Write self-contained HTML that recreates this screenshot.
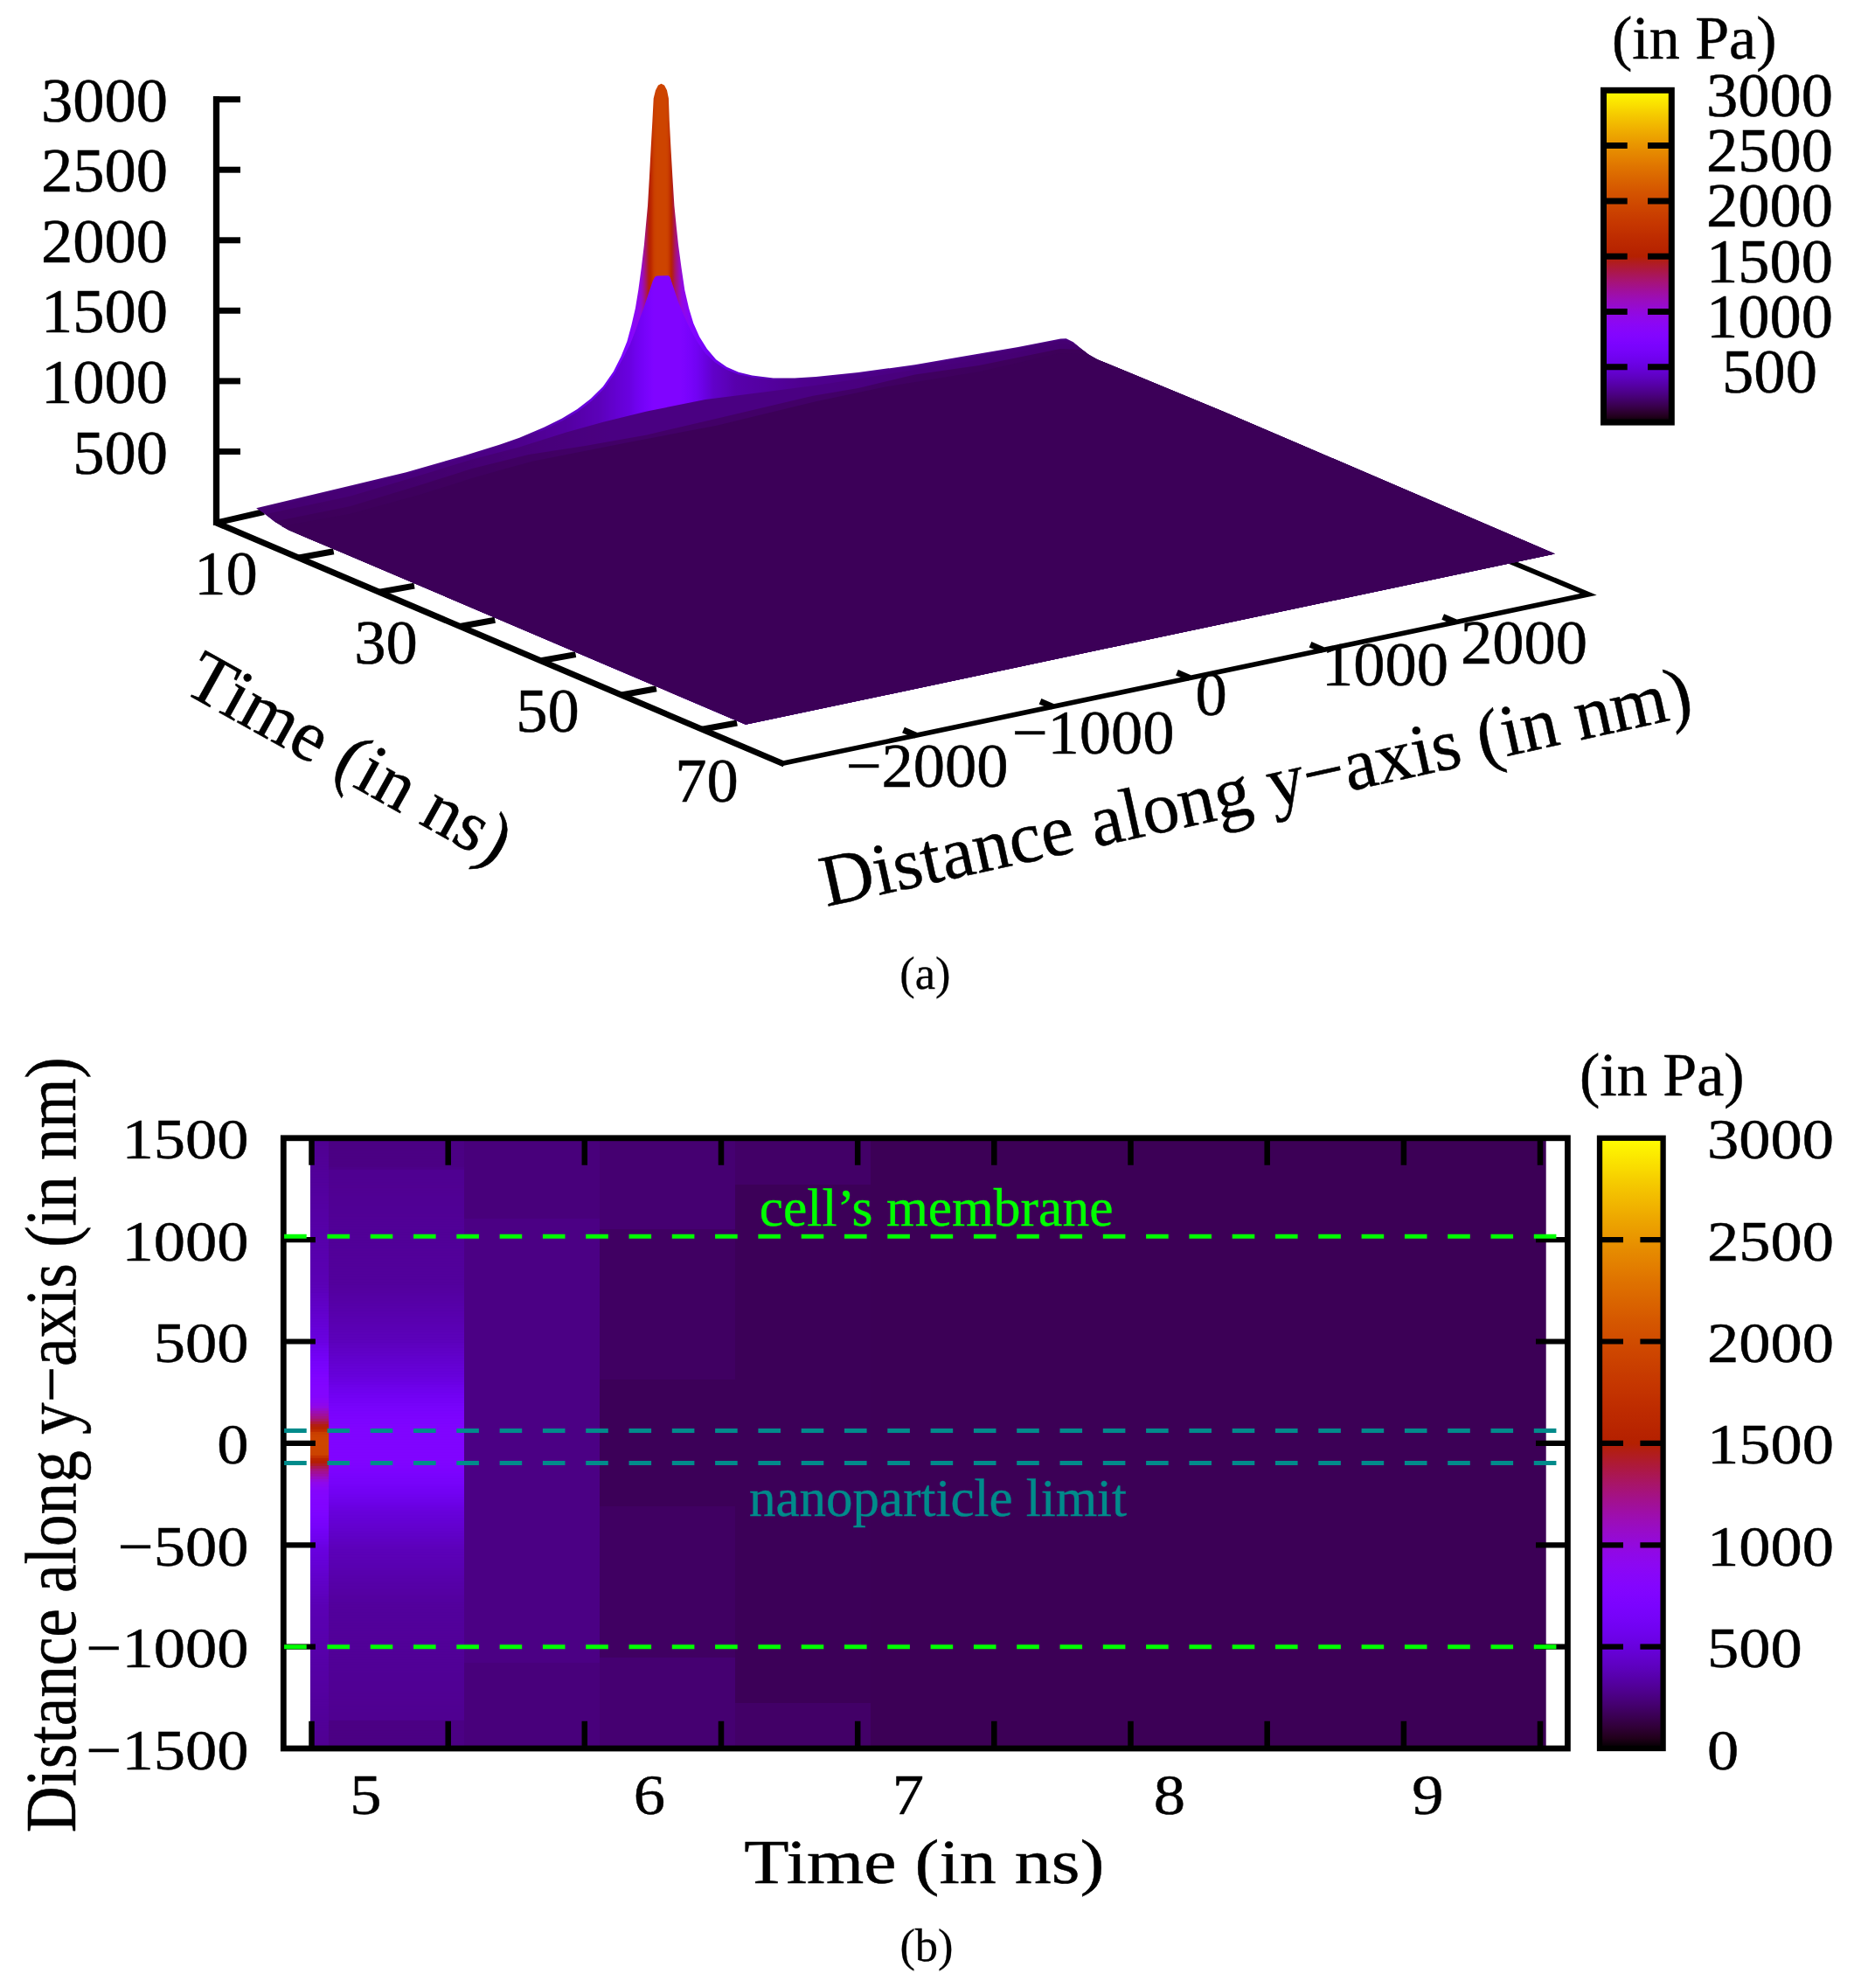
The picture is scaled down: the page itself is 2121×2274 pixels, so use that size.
<!DOCTYPE html>
<html><head><meta charset="utf-8"><title>Figure</title>
<style>
html,body{margin:0;padding:0;background:#fff;}
body{width:2121px;height:2274px;overflow:hidden;}
svg{display:block;}
text{font-family:"Liberation Serif","Times New Roman",serif;fill:#000;stroke:#000;stroke-width:0.5px;}
.t70{font-size:71px;}
.t84{font-size:84px;}
.k{stroke:#000;fill:none;stroke-linecap:butt;}
</style></head><body>
<svg width="2121" height="2274" viewBox="0 0 2121 2274">
<rect width="2121" height="2274" fill="#fff"/>
<defs>
<linearGradient id="palv" x1="0" y1="0" x2="0" y2="1"><stop offset="0.0000" stop-color="#ffff00"/><stop offset="0.0167" stop-color="#fdf200"/><stop offset="0.0333" stop-color="#fbe600"/><stop offset="0.0500" stop-color="#f9db00"/><stop offset="0.0667" stop-color="#f6cf00"/><stop offset="0.0833" stop-color="#f4c400"/><stop offset="0.1000" stop-color="#f2ba00"/><stop offset="0.1167" stop-color="#f0b000"/><stop offset="0.1333" stop-color="#eda600"/><stop offset="0.1500" stop-color="#eb9d00"/><stop offset="0.1667" stop-color="#e99400"/><stop offset="0.1833" stop-color="#e68b00"/><stop offset="0.2000" stop-color="#e48300"/><stop offset="0.2167" stop-color="#e27b00"/><stop offset="0.2333" stop-color="#df7300"/><stop offset="0.2500" stop-color="#dd6c00"/><stop offset="0.2667" stop-color="#da6500"/><stop offset="0.2833" stop-color="#d85e00"/><stop offset="0.3000" stop-color="#d55700"/><stop offset="0.3167" stop-color="#d35100"/><stop offset="0.3333" stop-color="#d04c00"/><stop offset="0.3500" stop-color="#ce4600"/><stop offset="0.3667" stop-color="#cb4100"/><stop offset="0.3833" stop-color="#c83c00"/><stop offset="0.4000" stop-color="#c63700"/><stop offset="0.4167" stop-color="#c33300"/><stop offset="0.4333" stop-color="#c02e00"/><stop offset="0.4500" stop-color="#bd2a00"/><stop offset="0.4667" stop-color="#ba2700"/><stop offset="0.4833" stop-color="#b72300"/><stop offset="0.5000" stop-color="#b42000"/><stop offset="0.5167" stop-color="#b11d1b"/><stop offset="0.5333" stop-color="#ae1a35"/><stop offset="0.5500" stop-color="#ab174f"/><stop offset="0.5667" stop-color="#a81568"/><stop offset="0.5833" stop-color="#a51280"/><stop offset="0.6000" stop-color="#a11096"/><stop offset="0.6167" stop-color="#9e0eab"/><stop offset="0.6333" stop-color="#9a0dbe"/><stop offset="0.6500" stop-color="#970bce"/><stop offset="0.6667" stop-color="#9309dd"/><stop offset="0.6833" stop-color="#8f08e9"/><stop offset="0.7000" stop-color="#8c07f3"/><stop offset="0.7167" stop-color="#8806f9"/><stop offset="0.7333" stop-color="#8405fe"/><stop offset="0.7500" stop-color="#8004ff"/><stop offset="0.7667" stop-color="#7b03fe"/><stop offset="0.7833" stop-color="#7703f9"/><stop offset="0.8000" stop-color="#7202f3"/><stop offset="0.8167" stop-color="#6d02e9"/><stop offset="0.8333" stop-color="#6801dd"/><stop offset="0.8500" stop-color="#6301ce"/><stop offset="0.8667" stop-color="#5d01be"/><stop offset="0.8833" stop-color="#5700ab"/><stop offset="0.9000" stop-color="#510096"/><stop offset="0.9167" stop-color="#4a0080"/><stop offset="0.9333" stop-color="#420068"/><stop offset="0.9500" stop-color="#39004f"/><stop offset="0.9667" stop-color="#2f0035"/><stop offset="0.9833" stop-color="#21001b"/><stop offset="1.0000" stop-color="#000000"/></linearGradient>
<linearGradient id="gspike" gradientUnits="userSpaceOnUse" x1="290" y1="0" x2="1250" y2="0"><stop offset="0.0000" stop-color="#460074"/><stop offset="0.0021" stop-color="#460074"/><stop offset="0.0042" stop-color="#460074"/><stop offset="0.0063" stop-color="#460074"/><stop offset="0.0083" stop-color="#460075"/><stop offset="0.0104" stop-color="#460075"/><stop offset="0.0125" stop-color="#460075"/><stop offset="0.0146" stop-color="#460075"/><stop offset="0.0167" stop-color="#460075"/><stop offset="0.0187" stop-color="#460075"/><stop offset="0.0208" stop-color="#460076"/><stop offset="0.0229" stop-color="#460076"/><stop offset="0.0250" stop-color="#470076"/><stop offset="0.0271" stop-color="#470076"/><stop offset="0.0292" stop-color="#470076"/><stop offset="0.0312" stop-color="#470077"/><stop offset="0.0333" stop-color="#470077"/><stop offset="0.0354" stop-color="#470077"/><stop offset="0.0375" stop-color="#470077"/><stop offset="0.0396" stop-color="#470077"/><stop offset="0.0417" stop-color="#470077"/><stop offset="0.0437" stop-color="#470078"/><stop offset="0.0458" stop-color="#470078"/><stop offset="0.0479" stop-color="#470078"/><stop offset="0.0500" stop-color="#470078"/><stop offset="0.0521" stop-color="#470078"/><stop offset="0.0542" stop-color="#470079"/><stop offset="0.0563" stop-color="#470079"/><stop offset="0.0583" stop-color="#470079"/><stop offset="0.0604" stop-color="#480079"/><stop offset="0.0625" stop-color="#480079"/><stop offset="0.0646" stop-color="#480079"/><stop offset="0.0667" stop-color="#48007a"/><stop offset="0.0688" stop-color="#48007a"/><stop offset="0.0708" stop-color="#48007a"/><stop offset="0.0729" stop-color="#48007a"/><stop offset="0.0750" stop-color="#48007a"/><stop offset="0.0771" stop-color="#48007b"/><stop offset="0.0792" stop-color="#48007b"/><stop offset="0.0813" stop-color="#48007b"/><stop offset="0.0833" stop-color="#48007b"/><stop offset="0.0854" stop-color="#48007b"/><stop offset="0.0875" stop-color="#48007b"/><stop offset="0.0896" stop-color="#48007c"/><stop offset="0.0917" stop-color="#48007c"/><stop offset="0.0938" stop-color="#48007c"/><stop offset="0.0958" stop-color="#49007c"/><stop offset="0.0979" stop-color="#49007c"/><stop offset="0.1000" stop-color="#49007d"/><stop offset="0.1021" stop-color="#49007d"/><stop offset="0.1042" stop-color="#49007d"/><stop offset="0.1062" stop-color="#49007d"/><stop offset="0.1083" stop-color="#49007d"/><stop offset="0.1104" stop-color="#49007d"/><stop offset="0.1125" stop-color="#49007e"/><stop offset="0.1146" stop-color="#49007e"/><stop offset="0.1167" stop-color="#49007e"/><stop offset="0.1187" stop-color="#49007e"/><stop offset="0.1208" stop-color="#49007e"/><stop offset="0.1229" stop-color="#49007e"/><stop offset="0.1250" stop-color="#49007f"/><stop offset="0.1271" stop-color="#49007f"/><stop offset="0.1292" stop-color="#49007f"/><stop offset="0.1313" stop-color="#4a007f"/><stop offset="0.1333" stop-color="#4a007f"/><stop offset="0.1354" stop-color="#4a0080"/><stop offset="0.1375" stop-color="#4a0080"/><stop offset="0.1396" stop-color="#4a0080"/><stop offset="0.1417" stop-color="#4a0080"/><stop offset="0.1437" stop-color="#4a0080"/><stop offset="0.1458" stop-color="#4a0080"/><stop offset="0.1479" stop-color="#4a0081"/><stop offset="0.1500" stop-color="#4a0081"/><stop offset="0.1521" stop-color="#4a0081"/><stop offset="0.1542" stop-color="#4a0081"/><stop offset="0.1562" stop-color="#4a0081"/><stop offset="0.1583" stop-color="#4a0082"/><stop offset="0.1604" stop-color="#4a0082"/><stop offset="0.1625" stop-color="#4a0082"/><stop offset="0.1646" stop-color="#4a0082"/><stop offset="0.1667" stop-color="#4a0082"/><stop offset="0.1688" stop-color="#4b0082"/><stop offset="0.1708" stop-color="#4b0083"/><stop offset="0.1729" stop-color="#4b0083"/><stop offset="0.1750" stop-color="#4b0083"/><stop offset="0.1771" stop-color="#4b0083"/><stop offset="0.1792" stop-color="#4b0083"/><stop offset="0.1812" stop-color="#4b0083"/><stop offset="0.1833" stop-color="#4b0084"/><stop offset="0.1854" stop-color="#4b0084"/><stop offset="0.1875" stop-color="#4b0084"/><stop offset="0.1896" stop-color="#4b0084"/><stop offset="0.1917" stop-color="#4b0084"/><stop offset="0.1938" stop-color="#4b0085"/><stop offset="0.1958" stop-color="#4b0085"/><stop offset="0.1979" stop-color="#4b0085"/><stop offset="0.2000" stop-color="#4b0085"/><stop offset="0.2021" stop-color="#4b0085"/><stop offset="0.2042" stop-color="#4b0085"/><stop offset="0.2062" stop-color="#4c0086"/><stop offset="0.2083" stop-color="#4c0086"/><stop offset="0.2104" stop-color="#4c0086"/><stop offset="0.2125" stop-color="#4c0086"/><stop offset="0.2146" stop-color="#4c0086"/><stop offset="0.2167" stop-color="#4c0086"/><stop offset="0.2188" stop-color="#4c0087"/><stop offset="0.2208" stop-color="#4c0087"/><stop offset="0.2229" stop-color="#4c0087"/><stop offset="0.2250" stop-color="#4c0087"/><stop offset="0.2271" stop-color="#4c0087"/><stop offset="0.2292" stop-color="#4c0088"/><stop offset="0.2313" stop-color="#4c0088"/><stop offset="0.2333" stop-color="#4c0088"/><stop offset="0.2354" stop-color="#4c0088"/><stop offset="0.2375" stop-color="#4c0088"/><stop offset="0.2396" stop-color="#4c0088"/><stop offset="0.2417" stop-color="#4c0089"/><stop offset="0.2437" stop-color="#4d0089"/><stop offset="0.2458" stop-color="#4d0089"/><stop offset="0.2479" stop-color="#4d0089"/><stop offset="0.2500" stop-color="#4d0089"/><stop offset="0.2521" stop-color="#4d0089"/><stop offset="0.2542" stop-color="#4d008a"/><stop offset="0.2562" stop-color="#4d008a"/><stop offset="0.2583" stop-color="#4d008a"/><stop offset="0.2604" stop-color="#4d008a"/><stop offset="0.2625" stop-color="#4d008a"/><stop offset="0.2646" stop-color="#4d008b"/><stop offset="0.2667" stop-color="#4d008b"/><stop offset="0.2687" stop-color="#4d008b"/><stop offset="0.2708" stop-color="#4d008b"/><stop offset="0.2729" stop-color="#4d008b"/><stop offset="0.2750" stop-color="#4d008b"/><stop offset="0.2771" stop-color="#4d008c"/><stop offset="0.2792" stop-color="#4d008c"/><stop offset="0.2812" stop-color="#4e008c"/><stop offset="0.2833" stop-color="#4e008c"/><stop offset="0.2854" stop-color="#4e008c"/><stop offset="0.2875" stop-color="#4e008c"/><stop offset="0.2896" stop-color="#4e008d"/><stop offset="0.2917" stop-color="#4e008d"/><stop offset="0.2938" stop-color="#4e008d"/><stop offset="0.2958" stop-color="#4e008d"/><stop offset="0.2979" stop-color="#4e008d"/><stop offset="0.3000" stop-color="#4e008d"/><stop offset="0.3021" stop-color="#4e008e"/><stop offset="0.3042" stop-color="#4e008e"/><stop offset="0.3063" stop-color="#4e008e"/><stop offset="0.3083" stop-color="#4e008e"/><stop offset="0.3104" stop-color="#4e008e"/><stop offset="0.3125" stop-color="#4e008e"/><stop offset="0.3146" stop-color="#4e008f"/><stop offset="0.3167" stop-color="#4e008f"/><stop offset="0.3187" stop-color="#4e008f"/><stop offset="0.3208" stop-color="#4f008f"/><stop offset="0.3229" stop-color="#4f008f"/><stop offset="0.3250" stop-color="#4f0092"/><stop offset="0.3271" stop-color="#500095"/><stop offset="0.3292" stop-color="#510098"/><stop offset="0.3312" stop-color="#52009a"/><stop offset="0.3333" stop-color="#53009d"/><stop offset="0.3354" stop-color="#5400a0"/><stop offset="0.3375" stop-color="#5400a2"/><stop offset="0.3396" stop-color="#5500a5"/><stop offset="0.3417" stop-color="#5600a7"/><stop offset="0.3438" stop-color="#5700aa"/><stop offset="0.3458" stop-color="#5800ac"/><stop offset="0.3479" stop-color="#5800af"/><stop offset="0.3500" stop-color="#5900b1"/><stop offset="0.3521" stop-color="#5a00b4"/><stop offset="0.3542" stop-color="#5b01b6"/><stop offset="0.3563" stop-color="#5b01b8"/><stop offset="0.3583" stop-color="#5c01bb"/><stop offset="0.3604" stop-color="#5d01bd"/><stop offset="0.3625" stop-color="#5e01bf"/><stop offset="0.3646" stop-color="#5e01c1"/><stop offset="0.3667" stop-color="#5f01c4"/><stop offset="0.3688" stop-color="#6001c6"/><stop offset="0.3708" stop-color="#6101c8"/><stop offset="0.3729" stop-color="#6101ca"/><stop offset="0.3750" stop-color="#6201cc"/><stop offset="0.3771" stop-color="#6301ce"/><stop offset="0.3792" stop-color="#6301d0"/><stop offset="0.3812" stop-color="#6401d2"/><stop offset="0.3833" stop-color="#6501d4"/><stop offset="0.3854" stop-color="#6501d6"/><stop offset="0.3875" stop-color="#6601d7"/><stop offset="0.3896" stop-color="#6701d9"/><stop offset="0.3917" stop-color="#6701db"/><stop offset="0.3937" stop-color="#6801dd"/><stop offset="0.3958" stop-color="#6901de"/><stop offset="0.3979" stop-color="#6901e0"/><stop offset="0.4000" stop-color="#6a01e2"/><stop offset="0.4021" stop-color="#6b01e3"/><stop offset="0.4042" stop-color="#6b01e5"/><stop offset="0.4062" stop-color="#6c01e6"/><stop offset="0.4083" stop-color="#6d02e7"/><stop offset="0.4104" stop-color="#6d02e9"/><stop offset="0.4125" stop-color="#6e02ea"/><stop offset="0.4146" stop-color="#6e02ec"/><stop offset="0.4167" stop-color="#6f02ed"/><stop offset="0.4188" stop-color="#7002ee"/><stop offset="0.4208" stop-color="#7002ef"/><stop offset="0.4229" stop-color="#7102f0"/><stop offset="0.4250" stop-color="#7102f1"/><stop offset="0.4271" stop-color="#7202f3"/><stop offset="0.4292" stop-color="#7402f5"/><stop offset="0.4313" stop-color="#7602f8"/><stop offset="0.4333" stop-color="#7703fa"/><stop offset="0.4354" stop-color="#7903fc"/><stop offset="0.4375" stop-color="#7b03fd"/><stop offset="0.4396" stop-color="#7c03fe"/><stop offset="0.4417" stop-color="#7e04ff"/><stop offset="0.4437" stop-color="#8004ff"/><stop offset="0.4458" stop-color="#8104ff"/><stop offset="0.4479" stop-color="#8305fe"/><stop offset="0.4500" stop-color="#8505fd"/><stop offset="0.4521" stop-color="#8706fa"/><stop offset="0.4542" stop-color="#8a06f6"/><stop offset="0.4562" stop-color="#8c07f1"/><stop offset="0.4583" stop-color="#8f08eb"/><stop offset="0.4604" stop-color="#9109e4"/><stop offset="0.4625" stop-color="#960bd1"/><stop offset="0.4646" stop-color="#9e0eac"/><stop offset="0.4667" stop-color="#a5137e"/><stop offset="0.4688" stop-color="#ac184b"/><stop offset="0.4708" stop-color="#b21d15"/><stop offset="0.4729" stop-color="#b82400"/><stop offset="0.4750" stop-color="#c12f00"/><stop offset="0.4771" stop-color="#c93d00"/><stop offset="0.4792" stop-color="#cb4200"/><stop offset="0.4813" stop-color="#cd4400"/><stop offset="0.4833" stop-color="#cd4400"/><stop offset="0.4854" stop-color="#cd4400"/><stop offset="0.4875" stop-color="#cd4400"/><stop offset="0.4896" stop-color="#cd4400"/><stop offset="0.4917" stop-color="#cd4400"/><stop offset="0.4938" stop-color="#ca3f00"/><stop offset="0.4958" stop-color="#c33300"/><stop offset="0.4979" stop-color="#b82400"/><stop offset="0.5000" stop-color="#af1b2b"/><stop offset="0.5021" stop-color="#a91562"/><stop offset="0.5042" stop-color="#a41285"/><stop offset="0.5062" stop-color="#9e0fa7"/><stop offset="0.5083" stop-color="#990cc7"/><stop offset="0.5104" stop-color="#9209df"/><stop offset="0.5125" stop-color="#9008e8"/><stop offset="0.5146" stop-color="#8d07ef"/><stop offset="0.5167" stop-color="#8a06f5"/><stop offset="0.5188" stop-color="#8706fa"/><stop offset="0.5208" stop-color="#8505fd"/><stop offset="0.5229" stop-color="#8305fe"/><stop offset="0.5250" stop-color="#8104ff"/><stop offset="0.5271" stop-color="#7f04ff"/><stop offset="0.5292" stop-color="#7d04ff"/><stop offset="0.5312" stop-color="#7c03fe"/><stop offset="0.5333" stop-color="#7a03fd"/><stop offset="0.5354" stop-color="#7803fb"/><stop offset="0.5375" stop-color="#7602f9"/><stop offset="0.5396" stop-color="#7402f6"/><stop offset="0.5417" stop-color="#7202f3"/><stop offset="0.5437" stop-color="#7102f1"/><stop offset="0.5458" stop-color="#7102f0"/><stop offset="0.5479" stop-color="#7002ef"/><stop offset="0.5500" stop-color="#6f02ee"/><stop offset="0.5521" stop-color="#6f02ec"/><stop offset="0.5542" stop-color="#6e02eb"/><stop offset="0.5563" stop-color="#6e02ea"/><stop offset="0.5583" stop-color="#6d02e8"/><stop offset="0.5604" stop-color="#6c01e7"/><stop offset="0.5625" stop-color="#6c01e5"/><stop offset="0.5646" stop-color="#6b01e4"/><stop offset="0.5667" stop-color="#6a01e2"/><stop offset="0.5687" stop-color="#6901e0"/><stop offset="0.5708" stop-color="#6901df"/><stop offset="0.5729" stop-color="#6801dd"/><stop offset="0.5750" stop-color="#6701db"/><stop offset="0.5771" stop-color="#6701d9"/><stop offset="0.5792" stop-color="#6601d7"/><stop offset="0.5813" stop-color="#6501d5"/><stop offset="0.5833" stop-color="#6501d3"/><stop offset="0.5854" stop-color="#6401d1"/><stop offset="0.5875" stop-color="#6301cf"/><stop offset="0.5896" stop-color="#6201cd"/><stop offset="0.5917" stop-color="#6201cb"/><stop offset="0.5938" stop-color="#6101c9"/><stop offset="0.5958" stop-color="#6001c7"/><stop offset="0.5979" stop-color="#5f01c4"/><stop offset="0.6000" stop-color="#5f01c2"/><stop offset="0.6021" stop-color="#5e01c0"/><stop offset="0.6042" stop-color="#5d01be"/><stop offset="0.6062" stop-color="#5c01bb"/><stop offset="0.6083" stop-color="#5c01b9"/><stop offset="0.6104" stop-color="#5b01b6"/><stop offset="0.6125" stop-color="#5a00b4"/><stop offset="0.6146" stop-color="#5900b1"/><stop offset="0.6167" stop-color="#5800af"/><stop offset="0.6188" stop-color="#5800ac"/><stop offset="0.6208" stop-color="#5700a9"/><stop offset="0.6229" stop-color="#5600a7"/><stop offset="0.6250" stop-color="#5500a4"/><stop offset="0.6271" stop-color="#5400a1"/><stop offset="0.6292" stop-color="#53009e"/><stop offset="0.6312" stop-color="#52009c"/><stop offset="0.6333" stop-color="#520099"/><stop offset="0.6354" stop-color="#510096"/><stop offset="0.6375" stop-color="#510096"/><stop offset="0.6396" stop-color="#510096"/><stop offset="0.6417" stop-color="#510096"/><stop offset="0.6438" stop-color="#500095"/><stop offset="0.6458" stop-color="#500095"/><stop offset="0.6479" stop-color="#500095"/><stop offset="0.6500" stop-color="#500095"/><stop offset="0.6521" stop-color="#500095"/><stop offset="0.6542" stop-color="#500095"/><stop offset="0.6562" stop-color="#500095"/><stop offset="0.6583" stop-color="#500095"/><stop offset="0.6604" stop-color="#500095"/><stop offset="0.6625" stop-color="#500094"/><stop offset="0.6646" stop-color="#500094"/><stop offset="0.6667" stop-color="#500094"/><stop offset="0.6687" stop-color="#500094"/><stop offset="0.6708" stop-color="#500094"/><stop offset="0.6729" stop-color="#500094"/><stop offset="0.6750" stop-color="#500094"/><stop offset="0.6771" stop-color="#500094"/><stop offset="0.6792" stop-color="#500094"/><stop offset="0.6813" stop-color="#500093"/><stop offset="0.6833" stop-color="#500093"/><stop offset="0.6854" stop-color="#500093"/><stop offset="0.6875" stop-color="#500093"/><stop offset="0.6896" stop-color="#500093"/><stop offset="0.6917" stop-color="#500093"/><stop offset="0.6937" stop-color="#500093"/><stop offset="0.6958" stop-color="#500093"/><stop offset="0.6979" stop-color="#500093"/><stop offset="0.7000" stop-color="#500092"/><stop offset="0.7021" stop-color="#500092"/><stop offset="0.7042" stop-color="#4f0092"/><stop offset="0.7063" stop-color="#4f0092"/><stop offset="0.7083" stop-color="#4f0092"/><stop offset="0.7104" stop-color="#4f0092"/><stop offset="0.7125" stop-color="#4f0092"/><stop offset="0.7146" stop-color="#4f0092"/><stop offset="0.7167" stop-color="#4f0092"/><stop offset="0.7188" stop-color="#4f0091"/><stop offset="0.7208" stop-color="#4f0091"/><stop offset="0.7229" stop-color="#4f0091"/><stop offset="0.7250" stop-color="#4f0091"/><stop offset="0.7271" stop-color="#4f0091"/><stop offset="0.7292" stop-color="#4f0091"/><stop offset="0.7312" stop-color="#4f0091"/><stop offset="0.7333" stop-color="#4f0091"/><stop offset="0.7354" stop-color="#4f0091"/><stop offset="0.7375" stop-color="#4f0090"/><stop offset="0.7396" stop-color="#4f0090"/><stop offset="0.7417" stop-color="#4f0090"/><stop offset="0.7438" stop-color="#4f0090"/><stop offset="0.7458" stop-color="#4f0090"/><stop offset="0.7479" stop-color="#4f0090"/><stop offset="0.7500" stop-color="#4f0090"/><stop offset="0.7521" stop-color="#4f0090"/><stop offset="0.7542" stop-color="#4f008f"/><stop offset="0.7562" stop-color="#4f008f"/><stop offset="0.7583" stop-color="#4f008f"/><stop offset="0.7604" stop-color="#4f008f"/><stop offset="0.7625" stop-color="#4f008f"/><stop offset="0.7646" stop-color="#4e008f"/><stop offset="0.7667" stop-color="#4e008f"/><stop offset="0.7688" stop-color="#4e008f"/><stop offset="0.7708" stop-color="#4e008f"/><stop offset="0.7729" stop-color="#4e008e"/><stop offset="0.7750" stop-color="#4e008e"/><stop offset="0.7771" stop-color="#4e008e"/><stop offset="0.7792" stop-color="#4e008e"/><stop offset="0.7812" stop-color="#4e008e"/><stop offset="0.7833" stop-color="#4e008e"/><stop offset="0.7854" stop-color="#4e008e"/><stop offset="0.7875" stop-color="#4e008e"/><stop offset="0.7896" stop-color="#4e008e"/><stop offset="0.7917" stop-color="#4e008d"/><stop offset="0.7937" stop-color="#4e008d"/><stop offset="0.7958" stop-color="#4e008d"/><stop offset="0.7979" stop-color="#4e008d"/><stop offset="0.8000" stop-color="#4e008d"/><stop offset="0.8021" stop-color="#4e008d"/><stop offset="0.8042" stop-color="#4e008d"/><stop offset="0.8063" stop-color="#4e008d"/><stop offset="0.8083" stop-color="#4e008d"/><stop offset="0.8104" stop-color="#4e008c"/><stop offset="0.8125" stop-color="#4e008c"/><stop offset="0.8146" stop-color="#4e008c"/><stop offset="0.8167" stop-color="#4e008c"/><stop offset="0.8187" stop-color="#4e008c"/><stop offset="0.8208" stop-color="#4e008c"/><stop offset="0.8229" stop-color="#4d008c"/><stop offset="0.8250" stop-color="#4d008c"/><stop offset="0.8271" stop-color="#4d008b"/><stop offset="0.8292" stop-color="#4d008b"/><stop offset="0.8313" stop-color="#4d008b"/><stop offset="0.8333" stop-color="#4d008b"/><stop offset="0.8354" stop-color="#4d008b"/><stop offset="0.8375" stop-color="#4d008b"/><stop offset="0.8396" stop-color="#4d008b"/><stop offset="0.8417" stop-color="#4d008b"/><stop offset="0.8438" stop-color="#4d008b"/><stop offset="0.8458" stop-color="#4d008a"/><stop offset="0.8479" stop-color="#4d008a"/><stop offset="0.8500" stop-color="#4d008a"/><stop offset="0.8521" stop-color="#4d008a"/><stop offset="0.8542" stop-color="#4d008a"/><stop offset="0.8562" stop-color="#4d008a"/><stop offset="0.8583" stop-color="#4d008a"/><stop offset="0.8604" stop-color="#4d008a"/><stop offset="0.8625" stop-color="#4d008a"/><stop offset="0.8646" stop-color="#4d0089"/><stop offset="0.8667" stop-color="#4d0089"/><stop offset="0.8688" stop-color="#4d0089"/><stop offset="0.8708" stop-color="#4d0089"/><stop offset="0.8729" stop-color="#4d0089"/><stop offset="0.8750" stop-color="#4d0089"/><stop offset="0.8771" stop-color="#4d0089"/><stop offset="0.8792" stop-color="#4c0089"/><stop offset="0.8812" stop-color="#4c0088"/><stop offset="0.8833" stop-color="#4c0088"/><stop offset="0.8854" stop-color="#4c0088"/><stop offset="0.8875" stop-color="#4c0088"/><stop offset="0.8896" stop-color="#4c0088"/><stop offset="0.8917" stop-color="#4c0088"/><stop offset="0.8938" stop-color="#4c0088"/><stop offset="0.8958" stop-color="#4c0088"/><stop offset="0.8979" stop-color="#4c0088"/><stop offset="0.9000" stop-color="#4c0087"/><stop offset="0.9021" stop-color="#4c0087"/><stop offset="0.9042" stop-color="#4c0087"/><stop offset="0.9062" stop-color="#4c0087"/><stop offset="0.9083" stop-color="#4c0087"/><stop offset="0.9104" stop-color="#4c0087"/><stop offset="0.9125" stop-color="#4c0087"/><stop offset="0.9146" stop-color="#4c0087"/><stop offset="0.9167" stop-color="#4c0087"/><stop offset="0.9187" stop-color="#4c0086"/><stop offset="0.9208" stop-color="#4c0086"/><stop offset="0.9229" stop-color="#4c0086"/><stop offset="0.9250" stop-color="#4c0086"/><stop offset="0.9271" stop-color="#4c0086"/><stop offset="0.9292" stop-color="#4c0086"/><stop offset="0.9313" stop-color="#4c0086"/><stop offset="0.9333" stop-color="#4c0086"/><stop offset="0.9354" stop-color="#4b0085"/><stop offset="0.9375" stop-color="#4b0085"/><stop offset="0.9396" stop-color="#4b0085"/><stop offset="0.9417" stop-color="#4b0085"/><stop offset="0.9437" stop-color="#4b0085"/><stop offset="0.9458" stop-color="#4b0085"/><stop offset="0.9479" stop-color="#4b0085"/><stop offset="0.9500" stop-color="#4b0085"/><stop offset="0.9521" stop-color="#4b0085"/><stop offset="0.9542" stop-color="#4b0084"/><stop offset="0.9563" stop-color="#4b0084"/><stop offset="0.9583" stop-color="#4b0084"/><stop offset="0.9604" stop-color="#4b0084"/><stop offset="0.9625" stop-color="#4b0084"/><stop offset="0.9646" stop-color="#4b0084"/><stop offset="0.9667" stop-color="#4b0084"/><stop offset="0.9688" stop-color="#4b0084"/><stop offset="0.9708" stop-color="#4b0083"/><stop offset="0.9729" stop-color="#4b0083"/><stop offset="0.9750" stop-color="#4b0083"/><stop offset="0.9771" stop-color="#4b0083"/><stop offset="0.9792" stop-color="#4b0083"/><stop offset="0.9812" stop-color="#4b0083"/><stop offset="0.9833" stop-color="#4b0083"/><stop offset="0.9854" stop-color="#4b0083"/><stop offset="0.9875" stop-color="#4b0083"/><stop offset="0.9896" stop-color="#4b0082"/><stop offset="0.9917" stop-color="#4a0082"/><stop offset="0.9938" stop-color="#4a0082"/><stop offset="0.9958" stop-color="#4a0082"/><stop offset="0.9979" stop-color="#4a0082"/><stop offset="1.0000" stop-color="#4a0082"/></linearGradient>
<linearGradient id="ghump" gradientUnits="userSpaceOnUse" x1="290" y1="0" x2="1250" y2="0"><stop offset="0.0000" stop-color="#44006f"/><stop offset="0.0021" stop-color="#440070"/><stop offset="0.0042" stop-color="#440070"/><stop offset="0.0063" stop-color="#450070"/><stop offset="0.0083" stop-color="#450070"/><stop offset="0.0104" stop-color="#450070"/><stop offset="0.0125" stop-color="#450070"/><stop offset="0.0146" stop-color="#450070"/><stop offset="0.0167" stop-color="#450070"/><stop offset="0.0187" stop-color="#450070"/><stop offset="0.0208" stop-color="#450071"/><stop offset="0.0229" stop-color="#450071"/><stop offset="0.0250" stop-color="#450071"/><stop offset="0.0271" stop-color="#450071"/><stop offset="0.0292" stop-color="#450071"/><stop offset="0.0312" stop-color="#450071"/><stop offset="0.0333" stop-color="#450071"/><stop offset="0.0354" stop-color="#450071"/><stop offset="0.0375" stop-color="#450071"/><stop offset="0.0396" stop-color="#450071"/><stop offset="0.0417" stop-color="#450072"/><stop offset="0.0437" stop-color="#450072"/><stop offset="0.0458" stop-color="#450072"/><stop offset="0.0479" stop-color="#450072"/><stop offset="0.0500" stop-color="#450072"/><stop offset="0.0521" stop-color="#450072"/><stop offset="0.0542" stop-color="#450072"/><stop offset="0.0563" stop-color="#450072"/><stop offset="0.0583" stop-color="#450072"/><stop offset="0.0604" stop-color="#450072"/><stop offset="0.0625" stop-color="#450073"/><stop offset="0.0646" stop-color="#450073"/><stop offset="0.0667" stop-color="#460073"/><stop offset="0.0688" stop-color="#460073"/><stop offset="0.0708" stop-color="#460073"/><stop offset="0.0729" stop-color="#460073"/><stop offset="0.0750" stop-color="#460073"/><stop offset="0.0771" stop-color="#460073"/><stop offset="0.0792" stop-color="#460073"/><stop offset="0.0813" stop-color="#460074"/><stop offset="0.0833" stop-color="#460074"/><stop offset="0.0854" stop-color="#460074"/><stop offset="0.0875" stop-color="#460074"/><stop offset="0.0896" stop-color="#460074"/><stop offset="0.0917" stop-color="#460074"/><stop offset="0.0938" stop-color="#460074"/><stop offset="0.0958" stop-color="#460074"/><stop offset="0.0979" stop-color="#460074"/><stop offset="0.1000" stop-color="#460074"/><stop offset="0.1021" stop-color="#460075"/><stop offset="0.1042" stop-color="#460075"/><stop offset="0.1062" stop-color="#460075"/><stop offset="0.1083" stop-color="#460075"/><stop offset="0.1104" stop-color="#460075"/><stop offset="0.1125" stop-color="#460075"/><stop offset="0.1146" stop-color="#460075"/><stop offset="0.1167" stop-color="#460075"/><stop offset="0.1187" stop-color="#460076"/><stop offset="0.1208" stop-color="#460076"/><stop offset="0.1229" stop-color="#470076"/><stop offset="0.1250" stop-color="#470076"/><stop offset="0.1271" stop-color="#470076"/><stop offset="0.1292" stop-color="#470076"/><stop offset="0.1313" stop-color="#470077"/><stop offset="0.1333" stop-color="#470077"/><stop offset="0.1354" stop-color="#470077"/><stop offset="0.1375" stop-color="#470077"/><stop offset="0.1396" stop-color="#470077"/><stop offset="0.1417" stop-color="#470077"/><stop offset="0.1437" stop-color="#470078"/><stop offset="0.1458" stop-color="#470078"/><stop offset="0.1479" stop-color="#470078"/><stop offset="0.1500" stop-color="#470078"/><stop offset="0.1521" stop-color="#470078"/><stop offset="0.1542" stop-color="#470079"/><stop offset="0.1562" stop-color="#470079"/><stop offset="0.1583" stop-color="#470079"/><stop offset="0.1604" stop-color="#480079"/><stop offset="0.1625" stop-color="#480079"/><stop offset="0.1646" stop-color="#480079"/><stop offset="0.1667" stop-color="#48007a"/><stop offset="0.1688" stop-color="#48007a"/><stop offset="0.1708" stop-color="#48007a"/><stop offset="0.1729" stop-color="#48007a"/><stop offset="0.1750" stop-color="#48007a"/><stop offset="0.1771" stop-color="#48007a"/><stop offset="0.1792" stop-color="#48007b"/><stop offset="0.1812" stop-color="#48007b"/><stop offset="0.1833" stop-color="#48007b"/><stop offset="0.1854" stop-color="#48007b"/><stop offset="0.1875" stop-color="#48007b"/><stop offset="0.1896" stop-color="#48007b"/><stop offset="0.1917" stop-color="#48007c"/><stop offset="0.1938" stop-color="#48007c"/><stop offset="0.1958" stop-color="#48007c"/><stop offset="0.1979" stop-color="#49007c"/><stop offset="0.2000" stop-color="#49007c"/><stop offset="0.2021" stop-color="#49007c"/><stop offset="0.2042" stop-color="#49007d"/><stop offset="0.2062" stop-color="#49007d"/><stop offset="0.2083" stop-color="#49007d"/><stop offset="0.2104" stop-color="#49007d"/><stop offset="0.2125" stop-color="#49007d"/><stop offset="0.2146" stop-color="#49007e"/><stop offset="0.2167" stop-color="#49007e"/><stop offset="0.2188" stop-color="#49007e"/><stop offset="0.2208" stop-color="#49007e"/><stop offset="0.2229" stop-color="#49007e"/><stop offset="0.2250" stop-color="#49007e"/><stop offset="0.2271" stop-color="#49007f"/><stop offset="0.2292" stop-color="#49007f"/><stop offset="0.2313" stop-color="#49007f"/><stop offset="0.2333" stop-color="#49007f"/><stop offset="0.2354" stop-color="#4a007f"/><stop offset="0.2375" stop-color="#4a007f"/><stop offset="0.2396" stop-color="#4a0080"/><stop offset="0.2417" stop-color="#4a0080"/><stop offset="0.2437" stop-color="#4a0080"/><stop offset="0.2458" stop-color="#4a0080"/><stop offset="0.2479" stop-color="#4a0080"/><stop offset="0.2500" stop-color="#4a0080"/><stop offset="0.2521" stop-color="#4a0081"/><stop offset="0.2542" stop-color="#4a0081"/><stop offset="0.2562" stop-color="#4a0082"/><stop offset="0.2583" stop-color="#4a0082"/><stop offset="0.2604" stop-color="#4b0082"/><stop offset="0.2625" stop-color="#4b0083"/><stop offset="0.2646" stop-color="#4b0083"/><stop offset="0.2667" stop-color="#4b0084"/><stop offset="0.2687" stop-color="#4b0084"/><stop offset="0.2708" stop-color="#4b0084"/><stop offset="0.2729" stop-color="#4b0085"/><stop offset="0.2750" stop-color="#4b0085"/><stop offset="0.2771" stop-color="#4c0086"/><stop offset="0.2792" stop-color="#4c0086"/><stop offset="0.2812" stop-color="#4c0086"/><stop offset="0.2833" stop-color="#4c0087"/><stop offset="0.2854" stop-color="#4c0087"/><stop offset="0.2875" stop-color="#4c0087"/><stop offset="0.2896" stop-color="#4c0088"/><stop offset="0.2917" stop-color="#4c0088"/><stop offset="0.2938" stop-color="#4c0089"/><stop offset="0.2958" stop-color="#4d0089"/><stop offset="0.2979" stop-color="#4d0089"/><stop offset="0.3000" stop-color="#4d008a"/><stop offset="0.3021" stop-color="#4d008a"/><stop offset="0.3042" stop-color="#4d008b"/><stop offset="0.3063" stop-color="#4d008b"/><stop offset="0.3083" stop-color="#4d008b"/><stop offset="0.3104" stop-color="#4d008c"/><stop offset="0.3125" stop-color="#4e008c"/><stop offset="0.3146" stop-color="#4e008c"/><stop offset="0.3167" stop-color="#4e008d"/><stop offset="0.3187" stop-color="#4e008d"/><stop offset="0.3208" stop-color="#4e008e"/><stop offset="0.3229" stop-color="#4e008e"/><stop offset="0.3250" stop-color="#4e008f"/><stop offset="0.3271" stop-color="#4f0090"/><stop offset="0.3292" stop-color="#4f0091"/><stop offset="0.3312" stop-color="#4f0091"/><stop offset="0.3333" stop-color="#500092"/><stop offset="0.3354" stop-color="#500093"/><stop offset="0.3375" stop-color="#500094"/><stop offset="0.3396" stop-color="#500095"/><stop offset="0.3417" stop-color="#510096"/><stop offset="0.3438" stop-color="#510097"/><stop offset="0.3458" stop-color="#510097"/><stop offset="0.3479" stop-color="#510098"/><stop offset="0.3500" stop-color="#520099"/><stop offset="0.3521" stop-color="#52009a"/><stop offset="0.3542" stop-color="#52009b"/><stop offset="0.3563" stop-color="#52009c"/><stop offset="0.3583" stop-color="#53009c"/><stop offset="0.3604" stop-color="#53009d"/><stop offset="0.3625" stop-color="#53009e"/><stop offset="0.3646" stop-color="#53009f"/><stop offset="0.3667" stop-color="#5400a0"/><stop offset="0.3688" stop-color="#5400a1"/><stop offset="0.3708" stop-color="#5400a1"/><stop offset="0.3729" stop-color="#5400a2"/><stop offset="0.3750" stop-color="#5500a3"/><stop offset="0.3771" stop-color="#5500a4"/><stop offset="0.3792" stop-color="#5500a5"/><stop offset="0.3812" stop-color="#5600a7"/><stop offset="0.3833" stop-color="#5600a8"/><stop offset="0.3854" stop-color="#5700a9"/><stop offset="0.3875" stop-color="#5700ab"/><stop offset="0.3896" stop-color="#5700ac"/><stop offset="0.3917" stop-color="#5800ad"/><stop offset="0.3937" stop-color="#5800ae"/><stop offset="0.3958" stop-color="#5900b0"/><stop offset="0.3979" stop-color="#5900b1"/><stop offset="0.4000" stop-color="#5a00b2"/><stop offset="0.4021" stop-color="#5a00b4"/><stop offset="0.4042" stop-color="#5a01b5"/><stop offset="0.4062" stop-color="#5b01b6"/><stop offset="0.4083" stop-color="#5b01b7"/><stop offset="0.4104" stop-color="#5b01b8"/><stop offset="0.4125" stop-color="#5c01ba"/><stop offset="0.4146" stop-color="#5d01bc"/><stop offset="0.4167" stop-color="#5e01bf"/><stop offset="0.4188" stop-color="#5e01c1"/><stop offset="0.4208" stop-color="#5f01c4"/><stop offset="0.4229" stop-color="#6001c6"/><stop offset="0.4250" stop-color="#6101c9"/><stop offset="0.4271" stop-color="#6201cb"/><stop offset="0.4292" stop-color="#6201cd"/><stop offset="0.4313" stop-color="#6301d0"/><stop offset="0.4333" stop-color="#6401d2"/><stop offset="0.4354" stop-color="#6501d4"/><stop offset="0.4375" stop-color="#6601d6"/><stop offset="0.4396" stop-color="#6601d8"/><stop offset="0.4417" stop-color="#6701da"/><stop offset="0.4437" stop-color="#6801dc"/><stop offset="0.4458" stop-color="#6901de"/><stop offset="0.4479" stop-color="#6901e0"/><stop offset="0.4500" stop-color="#6b01e3"/><stop offset="0.4521" stop-color="#6c02e7"/><stop offset="0.4542" stop-color="#6e02eb"/><stop offset="0.4562" stop-color="#7002ee"/><stop offset="0.4583" stop-color="#7102f1"/><stop offset="0.4604" stop-color="#7302f4"/><stop offset="0.4625" stop-color="#7402f6"/><stop offset="0.4646" stop-color="#7602f8"/><stop offset="0.4667" stop-color="#7703fa"/><stop offset="0.4688" stop-color="#7903fc"/><stop offset="0.4708" stop-color="#7b03fd"/><stop offset="0.4729" stop-color="#7c03fe"/><stop offset="0.4750" stop-color="#7e04ff"/><stop offset="0.4771" stop-color="#8004ff"/><stop offset="0.4792" stop-color="#8004ff"/><stop offset="0.4813" stop-color="#8004ff"/><stop offset="0.4833" stop-color="#8004ff"/><stop offset="0.4854" stop-color="#8004ff"/><stop offset="0.4875" stop-color="#8004ff"/><stop offset="0.4896" stop-color="#8004ff"/><stop offset="0.4917" stop-color="#8004ff"/><stop offset="0.4938" stop-color="#8004ff"/><stop offset="0.4958" stop-color="#8004ff"/><stop offset="0.4979" stop-color="#8004ff"/><stop offset="0.5000" stop-color="#8004ff"/><stop offset="0.5021" stop-color="#8004ff"/><stop offset="0.5042" stop-color="#8004ff"/><stop offset="0.5062" stop-color="#8004ff"/><stop offset="0.5083" stop-color="#8004ff"/><stop offset="0.5104" stop-color="#7e04ff"/><stop offset="0.5125" stop-color="#7d04fe"/><stop offset="0.5146" stop-color="#7c03fe"/><stop offset="0.5167" stop-color="#7a03fd"/><stop offset="0.5188" stop-color="#7903fc"/><stop offset="0.5208" stop-color="#7803fa"/><stop offset="0.5229" stop-color="#7602f8"/><stop offset="0.5250" stop-color="#7402f6"/><stop offset="0.5271" stop-color="#7302f4"/><stop offset="0.5292" stop-color="#7102f1"/><stop offset="0.5312" stop-color="#6f02ed"/><stop offset="0.5333" stop-color="#6e02ea"/><stop offset="0.5354" stop-color="#6c01e6"/><stop offset="0.5375" stop-color="#6a01e2"/><stop offset="0.5396" stop-color="#6801dd"/><stop offset="0.5417" stop-color="#6601d9"/><stop offset="0.5437" stop-color="#6501d4"/><stop offset="0.5458" stop-color="#6301ce"/><stop offset="0.5479" stop-color="#6101c9"/><stop offset="0.5500" stop-color="#6001c7"/><stop offset="0.5521" stop-color="#6001c5"/><stop offset="0.5542" stop-color="#5f01c3"/><stop offset="0.5563" stop-color="#5e01c1"/><stop offset="0.5583" stop-color="#5d01be"/><stop offset="0.5604" stop-color="#5d01bc"/><stop offset="0.5625" stop-color="#5c01ba"/><stop offset="0.5646" stop-color="#5b01b8"/><stop offset="0.5667" stop-color="#5a01b5"/><stop offset="0.5687" stop-color="#5a00b3"/><stop offset="0.5708" stop-color="#5900b1"/><stop offset="0.5729" stop-color="#5800ae"/><stop offset="0.5750" stop-color="#5800ac"/><stop offset="0.5771" stop-color="#5700ab"/><stop offset="0.5792" stop-color="#5700ab"/><stop offset="0.5813" stop-color="#5700aa"/><stop offset="0.5833" stop-color="#5700a9"/><stop offset="0.5854" stop-color="#5600a9"/><stop offset="0.5875" stop-color="#5600a8"/><stop offset="0.5896" stop-color="#5600a7"/><stop offset="0.5917" stop-color="#5600a6"/><stop offset="0.5938" stop-color="#5600a6"/><stop offset="0.5958" stop-color="#5500a5"/><stop offset="0.5979" stop-color="#5500a4"/><stop offset="0.6000" stop-color="#5500a4"/><stop offset="0.6021" stop-color="#5500a3"/><stop offset="0.6042" stop-color="#5400a2"/><stop offset="0.6062" stop-color="#5400a1"/><stop offset="0.6083" stop-color="#5400a1"/><stop offset="0.6104" stop-color="#5400a0"/><stop offset="0.6125" stop-color="#54009f"/><stop offset="0.6146" stop-color="#53009e"/><stop offset="0.6167" stop-color="#53009e"/><stop offset="0.6188" stop-color="#53009d"/><stop offset="0.6208" stop-color="#53009c"/><stop offset="0.6229" stop-color="#52009c"/><stop offset="0.6250" stop-color="#52009b"/><stop offset="0.6271" stop-color="#52009a"/><stop offset="0.6292" stop-color="#520099"/><stop offset="0.6312" stop-color="#510099"/><stop offset="0.6333" stop-color="#510098"/><stop offset="0.6354" stop-color="#510097"/><stop offset="0.6375" stop-color="#510096"/><stop offset="0.6396" stop-color="#510095"/><stop offset="0.6417" stop-color="#500095"/><stop offset="0.6438" stop-color="#500094"/><stop offset="0.6458" stop-color="#500093"/><stop offset="0.6479" stop-color="#500092"/><stop offset="0.6500" stop-color="#4f0092"/><stop offset="0.6521" stop-color="#4f0091"/><stop offset="0.6542" stop-color="#4f0090"/><stop offset="0.6562" stop-color="#4f008f"/><stop offset="0.6583" stop-color="#4f008f"/><stop offset="0.6604" stop-color="#4e008f"/><stop offset="0.6625" stop-color="#4e008f"/><stop offset="0.6646" stop-color="#4e008e"/><stop offset="0.6667" stop-color="#4e008e"/><stop offset="0.6687" stop-color="#4e008e"/><stop offset="0.6708" stop-color="#4e008e"/><stop offset="0.6729" stop-color="#4e008d"/><stop offset="0.6750" stop-color="#4e008d"/><stop offset="0.6771" stop-color="#4e008d"/><stop offset="0.6792" stop-color="#4e008d"/><stop offset="0.6813" stop-color="#4e008d"/><stop offset="0.6833" stop-color="#4e008c"/><stop offset="0.6854" stop-color="#4e008c"/><stop offset="0.6875" stop-color="#4e008c"/><stop offset="0.6896" stop-color="#4d008c"/><stop offset="0.6917" stop-color="#4d008b"/><stop offset="0.6937" stop-color="#4d008b"/><stop offset="0.6958" stop-color="#4d008b"/><stop offset="0.6979" stop-color="#4d008b"/><stop offset="0.7000" stop-color="#4d008a"/><stop offset="0.7021" stop-color="#4d008a"/><stop offset="0.7042" stop-color="#4d008a"/><stop offset="0.7063" stop-color="#4d008a"/><stop offset="0.7083" stop-color="#4d0089"/><stop offset="0.7104" stop-color="#4d0089"/><stop offset="0.7125" stop-color="#4d0089"/><stop offset="0.7146" stop-color="#4d0089"/><stop offset="0.7167" stop-color="#4c0089"/><stop offset="0.7188" stop-color="#4c0088"/><stop offset="0.7208" stop-color="#4c0088"/><stop offset="0.7229" stop-color="#4c0088"/><stop offset="0.7250" stop-color="#4c0088"/><stop offset="0.7271" stop-color="#4c0087"/><stop offset="0.7292" stop-color="#4c0087"/><stop offset="0.7312" stop-color="#4c0087"/><stop offset="0.7333" stop-color="#4c0087"/><stop offset="0.7354" stop-color="#4c0086"/><stop offset="0.7375" stop-color="#4c0086"/><stop offset="0.7396" stop-color="#4c0086"/><stop offset="0.7417" stop-color="#4c0086"/><stop offset="0.7438" stop-color="#4c0085"/><stop offset="0.7458" stop-color="#4b0085"/><stop offset="0.7479" stop-color="#4b0085"/><stop offset="0.7500" stop-color="#4b0085"/><stop offset="0.7521" stop-color="#4b0085"/><stop offset="0.7542" stop-color="#4b0084"/><stop offset="0.7562" stop-color="#4b0084"/><stop offset="0.7583" stop-color="#4b0084"/><stop offset="0.7604" stop-color="#4b0084"/><stop offset="0.7625" stop-color="#4b0084"/><stop offset="0.7646" stop-color="#4b0083"/><stop offset="0.7667" stop-color="#4b0083"/><stop offset="0.7688" stop-color="#4b0083"/><stop offset="0.7708" stop-color="#4b0083"/><stop offset="0.7729" stop-color="#4b0082"/><stop offset="0.7750" stop-color="#4a0082"/><stop offset="0.7771" stop-color="#4a0082"/><stop offset="0.7792" stop-color="#4a0082"/><stop offset="0.7812" stop-color="#4a0082"/><stop offset="0.7833" stop-color="#4a0081"/><stop offset="0.7854" stop-color="#4a0081"/><stop offset="0.7875" stop-color="#4a0081"/><stop offset="0.7896" stop-color="#4a0081"/><stop offset="0.7917" stop-color="#4a0080"/><stop offset="0.7937" stop-color="#4a0080"/><stop offset="0.7958" stop-color="#4a0080"/><stop offset="0.7979" stop-color="#4a0080"/><stop offset="0.8000" stop-color="#4a0080"/><stop offset="0.8021" stop-color="#4a007f"/><stop offset="0.8042" stop-color="#49007f"/><stop offset="0.8063" stop-color="#49007f"/><stop offset="0.8083" stop-color="#49007f"/><stop offset="0.8104" stop-color="#49007e"/><stop offset="0.8125" stop-color="#49007e"/><stop offset="0.8146" stop-color="#49007e"/><stop offset="0.8167" stop-color="#49007e"/><stop offset="0.8187" stop-color="#49007e"/><stop offset="0.8208" stop-color="#49007d"/><stop offset="0.8229" stop-color="#49007d"/><stop offset="0.8250" stop-color="#49007d"/><stop offset="0.8271" stop-color="#49007d"/><stop offset="0.8292" stop-color="#49007c"/><stop offset="0.8313" stop-color="#49007c"/><stop offset="0.8333" stop-color="#48007c"/><stop offset="0.8354" stop-color="#48007c"/><stop offset="0.8375" stop-color="#48007c"/><stop offset="0.8396" stop-color="#48007b"/><stop offset="0.8417" stop-color="#48007b"/><stop offset="0.8438" stop-color="#48007b"/><stop offset="0.8458" stop-color="#48007b"/><stop offset="0.8479" stop-color="#48007b"/><stop offset="0.8500" stop-color="#48007a"/><stop offset="0.8521" stop-color="#48007a"/><stop offset="0.8542" stop-color="#48007a"/><stop offset="0.8562" stop-color="#48007a"/><stop offset="0.8583" stop-color="#48007a"/><stop offset="0.8604" stop-color="#48007a"/><stop offset="0.8625" stop-color="#480079"/><stop offset="0.8646" stop-color="#480079"/><stop offset="0.8667" stop-color="#480079"/><stop offset="0.8688" stop-color="#480079"/><stop offset="0.8708" stop-color="#470079"/><stop offset="0.8729" stop-color="#470079"/><stop offset="0.8750" stop-color="#470079"/><stop offset="0.8771" stop-color="#470078"/><stop offset="0.8792" stop-color="#470078"/><stop offset="0.8812" stop-color="#470078"/><stop offset="0.8833" stop-color="#470078"/><stop offset="0.8854" stop-color="#470078"/><stop offset="0.8875" stop-color="#470078"/><stop offset="0.8896" stop-color="#470078"/><stop offset="0.8917" stop-color="#470077"/><stop offset="0.8938" stop-color="#470077"/><stop offset="0.8958" stop-color="#470077"/><stop offset="0.8979" stop-color="#470077"/><stop offset="0.9000" stop-color="#470077"/><stop offset="0.9021" stop-color="#470077"/><stop offset="0.9042" stop-color="#470076"/><stop offset="0.9062" stop-color="#470076"/><stop offset="0.9083" stop-color="#470076"/><stop offset="0.9104" stop-color="#470076"/><stop offset="0.9125" stop-color="#470076"/><stop offset="0.9146" stop-color="#460076"/><stop offset="0.9167" stop-color="#460076"/><stop offset="0.9187" stop-color="#460075"/><stop offset="0.9208" stop-color="#460075"/><stop offset="0.9229" stop-color="#460075"/><stop offset="0.9250" stop-color="#460075"/><stop offset="0.9271" stop-color="#460075"/><stop offset="0.9292" stop-color="#460075"/><stop offset="0.9313" stop-color="#460075"/><stop offset="0.9333" stop-color="#460074"/><stop offset="0.9354" stop-color="#460074"/><stop offset="0.9375" stop-color="#460074"/><stop offset="0.9396" stop-color="#460074"/><stop offset="0.9417" stop-color="#460074"/><stop offset="0.9437" stop-color="#460074"/><stop offset="0.9458" stop-color="#460073"/><stop offset="0.9479" stop-color="#460073"/><stop offset="0.9500" stop-color="#460073"/><stop offset="0.9521" stop-color="#460073"/><stop offset="0.9542" stop-color="#460073"/><stop offset="0.9563" stop-color="#450073"/><stop offset="0.9583" stop-color="#450073"/><stop offset="0.9604" stop-color="#450072"/><stop offset="0.9625" stop-color="#450072"/><stop offset="0.9646" stop-color="#450072"/><stop offset="0.9667" stop-color="#450072"/><stop offset="0.9688" stop-color="#450072"/><stop offset="0.9708" stop-color="#450072"/><stop offset="0.9729" stop-color="#450071"/><stop offset="0.9750" stop-color="#450071"/><stop offset="0.9771" stop-color="#450071"/><stop offset="0.9792" stop-color="#450071"/><stop offset="0.9812" stop-color="#450071"/><stop offset="0.9833" stop-color="#450071"/><stop offset="0.9854" stop-color="#450071"/><stop offset="0.9875" stop-color="#450070"/><stop offset="0.9896" stop-color="#450070"/><stop offset="0.9917" stop-color="#450070"/><stop offset="0.9938" stop-color="#450070"/><stop offset="0.9958" stop-color="#450070"/><stop offset="0.9979" stop-color="#440070"/><stop offset="1.0000" stop-color="#44006f"/></linearGradient>
<linearGradient id="gb2" gradientUnits="userSpaceOnUse" x1="290" y1="0" x2="1250" y2="0"><stop offset="0.0000" stop-color="#410064"/><stop offset="0.0083" stop-color="#410064"/><stop offset="0.0167" stop-color="#410064"/><stop offset="0.0250" stop-color="#410065"/><stop offset="0.0333" stop-color="#410065"/><stop offset="0.0417" stop-color="#410065"/><stop offset="0.0500" stop-color="#410066"/><stop offset="0.0583" stop-color="#410066"/><stop offset="0.0667" stop-color="#410066"/><stop offset="0.0750" stop-color="#410066"/><stop offset="0.0833" stop-color="#420067"/><stop offset="0.0917" stop-color="#420067"/><stop offset="0.1000" stop-color="#420067"/><stop offset="0.1083" stop-color="#420068"/><stop offset="0.1167" stop-color="#420068"/><stop offset="0.1250" stop-color="#420068"/><stop offset="0.1333" stop-color="#420068"/><stop offset="0.1417" stop-color="#420069"/><stop offset="0.1500" stop-color="#420069"/><stop offset="0.1583" stop-color="#420069"/><stop offset="0.1667" stop-color="#42006a"/><stop offset="0.1750" stop-color="#43006a"/><stop offset="0.1833" stop-color="#43006b"/><stop offset="0.1917" stop-color="#43006c"/><stop offset="0.2000" stop-color="#44006d"/><stop offset="0.2083" stop-color="#44006e"/><stop offset="0.2167" stop-color="#44006e"/><stop offset="0.2250" stop-color="#44006f"/><stop offset="0.2333" stop-color="#450070"/><stop offset="0.2417" stop-color="#450071"/><stop offset="0.2500" stop-color="#450071"/><stop offset="0.2583" stop-color="#450072"/><stop offset="0.2667" stop-color="#460073"/><stop offset="0.2750" stop-color="#460074"/><stop offset="0.2833" stop-color="#460074"/><stop offset="0.2917" stop-color="#460075"/><stop offset="0.3000" stop-color="#470076"/><stop offset="0.3083" stop-color="#470077"/><stop offset="0.3167" stop-color="#470077"/><stop offset="0.3250" stop-color="#470078"/><stop offset="0.3333" stop-color="#480079"/><stop offset="0.3417" stop-color="#48007a"/><stop offset="0.3500" stop-color="#48007b"/><stop offset="0.3583" stop-color="#48007b"/><stop offset="0.3667" stop-color="#49007c"/><stop offset="0.3750" stop-color="#49007d"/><stop offset="0.3833" stop-color="#49007e"/><stop offset="0.3917" stop-color="#49007f"/><stop offset="0.4000" stop-color="#4a007f"/><stop offset="0.4083" stop-color="#4a0080"/><stop offset="0.4167" stop-color="#4a0081"/><stop offset="0.4250" stop-color="#4a0082"/><stop offset="0.4333" stop-color="#4a0082"/><stop offset="0.4417" stop-color="#4a0082"/><stop offset="0.4500" stop-color="#4a0082"/><stop offset="0.4583" stop-color="#4a0082"/><stop offset="0.4667" stop-color="#4a0082"/><stop offset="0.4750" stop-color="#4a0082"/><stop offset="0.4833" stop-color="#4a0082"/><stop offset="0.4917" stop-color="#4a0082"/><stop offset="0.5000" stop-color="#4a0082"/><stop offset="0.5083" stop-color="#4a0082"/><stop offset="0.5167" stop-color="#4a0082"/><stop offset="0.5250" stop-color="#4a0082"/><stop offset="0.5333" stop-color="#4a0082"/><stop offset="0.5417" stop-color="#4a0082"/><stop offset="0.5500" stop-color="#4a0082"/><stop offset="0.5583" stop-color="#4a0082"/><stop offset="0.5667" stop-color="#4a0082"/><stop offset="0.5750" stop-color="#4a0082"/><stop offset="0.5833" stop-color="#4a0082"/><stop offset="0.5917" stop-color="#4a0082"/><stop offset="0.6000" stop-color="#4a0082"/><stop offset="0.6083" stop-color="#4a0082"/><stop offset="0.6167" stop-color="#4a0082"/><stop offset="0.6250" stop-color="#4a0082"/><stop offset="0.6333" stop-color="#4a0082"/><stop offset="0.6417" stop-color="#4a0082"/><stop offset="0.6500" stop-color="#4a0082"/><stop offset="0.6583" stop-color="#4a0082"/><stop offset="0.6667" stop-color="#4a0082"/><stop offset="0.6750" stop-color="#4a0082"/><stop offset="0.6833" stop-color="#4a0082"/><stop offset="0.6917" stop-color="#4a0082"/><stop offset="0.7000" stop-color="#4a0081"/><stop offset="0.7083" stop-color="#4a0081"/><stop offset="0.7167" stop-color="#4a0080"/><stop offset="0.7250" stop-color="#4a007f"/><stop offset="0.7333" stop-color="#49007f"/><stop offset="0.7417" stop-color="#49007e"/><stop offset="0.7500" stop-color="#49007e"/><stop offset="0.7583" stop-color="#49007d"/><stop offset="0.7667" stop-color="#49007d"/><stop offset="0.7750" stop-color="#49007c"/><stop offset="0.7833" stop-color="#48007c"/><stop offset="0.7917" stop-color="#48007b"/><stop offset="0.8000" stop-color="#48007b"/><stop offset="0.8083" stop-color="#48007a"/><stop offset="0.8167" stop-color="#48007a"/><stop offset="0.8250" stop-color="#480079"/><stop offset="0.8333" stop-color="#470079"/><stop offset="0.8417" stop-color="#470078"/><stop offset="0.8500" stop-color="#470078"/><stop offset="0.8583" stop-color="#470077"/><stop offset="0.8667" stop-color="#470076"/><stop offset="0.8750" stop-color="#460076"/><stop offset="0.8833" stop-color="#460075"/><stop offset="0.8917" stop-color="#460075"/><stop offset="0.9000" stop-color="#460074"/><stop offset="0.9083" stop-color="#460073"/><stop offset="0.9167" stop-color="#450073"/><stop offset="0.9250" stop-color="#450072"/><stop offset="0.9333" stop-color="#450071"/><stop offset="0.9417" stop-color="#450071"/><stop offset="0.9500" stop-color="#450070"/><stop offset="0.9583" stop-color="#440070"/><stop offset="0.9667" stop-color="#44006f"/><stop offset="0.9750" stop-color="#44006e"/><stop offset="0.9833" stop-color="#44006e"/><stop offset="0.9917" stop-color="#44006d"/><stop offset="1.0000" stop-color="#43006d"/></linearGradient>
<linearGradient id="gb3" gradientUnits="userSpaceOnUse" x1="290" y1="0" x2="1250" y2="0"><stop offset="0.0000" stop-color="#3d0059"/><stop offset="0.0083" stop-color="#3d005a"/><stop offset="0.0167" stop-color="#3d005a"/><stop offset="0.0250" stop-color="#3d005a"/><stop offset="0.0333" stop-color="#3d005a"/><stop offset="0.0417" stop-color="#3d005a"/><stop offset="0.0500" stop-color="#3d005a"/><stop offset="0.0583" stop-color="#3d005b"/><stop offset="0.0667" stop-color="#3d005b"/><stop offset="0.0750" stop-color="#3d005b"/><stop offset="0.0833" stop-color="#3d005b"/><stop offset="0.0917" stop-color="#3e005b"/><stop offset="0.1000" stop-color="#3e005b"/><stop offset="0.1083" stop-color="#3e005c"/><stop offset="0.1167" stop-color="#3e005c"/><stop offset="0.1250" stop-color="#3e005c"/><stop offset="0.1333" stop-color="#3e005c"/><stop offset="0.1417" stop-color="#3e005c"/><stop offset="0.1500" stop-color="#3e005c"/><stop offset="0.1583" stop-color="#3e005d"/><stop offset="0.1667" stop-color="#3e005d"/><stop offset="0.1750" stop-color="#3e005d"/><stop offset="0.1833" stop-color="#3e005d"/><stop offset="0.1917" stop-color="#3e005d"/><stop offset="0.2000" stop-color="#3e005d"/><stop offset="0.2083" stop-color="#3e005e"/><stop offset="0.2167" stop-color="#3e005e"/><stop offset="0.2250" stop-color="#3f005e"/><stop offset="0.2333" stop-color="#3f005e"/><stop offset="0.2417" stop-color="#3f005f"/><stop offset="0.2500" stop-color="#3f005f"/><stop offset="0.2583" stop-color="#3f0060"/><stop offset="0.2667" stop-color="#3f0060"/><stop offset="0.2750" stop-color="#3f0060"/><stop offset="0.2833" stop-color="#3f0061"/><stop offset="0.2917" stop-color="#400061"/><stop offset="0.3000" stop-color="#400061"/><stop offset="0.3083" stop-color="#400062"/><stop offset="0.3167" stop-color="#400062"/><stop offset="0.3250" stop-color="#400062"/><stop offset="0.3333" stop-color="#400063"/><stop offset="0.3417" stop-color="#400063"/><stop offset="0.3500" stop-color="#400063"/><stop offset="0.3583" stop-color="#410064"/><stop offset="0.3667" stop-color="#410064"/><stop offset="0.3750" stop-color="#410065"/><stop offset="0.3833" stop-color="#410065"/><stop offset="0.3917" stop-color="#410065"/><stop offset="0.4000" stop-color="#410066"/><stop offset="0.4083" stop-color="#410066"/><stop offset="0.4167" stop-color="#410066"/><stop offset="0.4250" stop-color="#410067"/><stop offset="0.4333" stop-color="#420067"/><stop offset="0.4417" stop-color="#420067"/><stop offset="0.4500" stop-color="#420067"/><stop offset="0.4583" stop-color="#420067"/><stop offset="0.4667" stop-color="#420067"/><stop offset="0.4750" stop-color="#420067"/><stop offset="0.4833" stop-color="#420067"/><stop offset="0.4917" stop-color="#420067"/><stop offset="0.5000" stop-color="#420067"/><stop offset="0.5083" stop-color="#420067"/><stop offset="0.5167" stop-color="#420067"/><stop offset="0.5250" stop-color="#420067"/><stop offset="0.5333" stop-color="#420067"/><stop offset="0.5417" stop-color="#420067"/><stop offset="0.5500" stop-color="#420067"/><stop offset="0.5583" stop-color="#420067"/><stop offset="0.5667" stop-color="#420067"/><stop offset="0.5750" stop-color="#420067"/><stop offset="0.5833" stop-color="#420067"/><stop offset="0.5917" stop-color="#420067"/><stop offset="0.6000" stop-color="#420067"/><stop offset="0.6083" stop-color="#420067"/><stop offset="0.6167" stop-color="#420067"/><stop offset="0.6250" stop-color="#420067"/><stop offset="0.6333" stop-color="#420067"/><stop offset="0.6417" stop-color="#420067"/><stop offset="0.6500" stop-color="#420067"/><stop offset="0.6583" stop-color="#420067"/><stop offset="0.6667" stop-color="#420067"/><stop offset="0.6750" stop-color="#420067"/><stop offset="0.6833" stop-color="#420067"/><stop offset="0.6917" stop-color="#410067"/><stop offset="0.7000" stop-color="#410066"/><stop offset="0.7083" stop-color="#410066"/><stop offset="0.7167" stop-color="#410065"/><stop offset="0.7250" stop-color="#410065"/><stop offset="0.7333" stop-color="#410064"/><stop offset="0.7417" stop-color="#400064"/><stop offset="0.7500" stop-color="#400063"/><stop offset="0.7583" stop-color="#400063"/><stop offset="0.7667" stop-color="#400062"/><stop offset="0.7750" stop-color="#400062"/><stop offset="0.7833" stop-color="#400061"/><stop offset="0.7917" stop-color="#3f0061"/><stop offset="0.8000" stop-color="#3f0060"/><stop offset="0.8083" stop-color="#3f0060"/><stop offset="0.8167" stop-color="#3f005f"/><stop offset="0.8250" stop-color="#3f005f"/><stop offset="0.8333" stop-color="#3f005e"/><stop offset="0.8417" stop-color="#3f005e"/><stop offset="0.8500" stop-color="#3e005e"/><stop offset="0.8583" stop-color="#3e005d"/><stop offset="0.8667" stop-color="#3e005d"/><stop offset="0.8750" stop-color="#3e005d"/><stop offset="0.8833" stop-color="#3e005c"/><stop offset="0.8917" stop-color="#3e005c"/><stop offset="0.9000" stop-color="#3e005c"/><stop offset="0.9083" stop-color="#3e005b"/><stop offset="0.9167" stop-color="#3d005b"/><stop offset="0.9250" stop-color="#3d005b"/><stop offset="0.9333" stop-color="#3d005a"/><stop offset="0.9417" stop-color="#3d005a"/><stop offset="0.9500" stop-color="#3d005a"/><stop offset="0.9583" stop-color="#3d0059"/><stop offset="0.9667" stop-color="#3d0059"/><stop offset="0.9750" stop-color="#3d0059"/><stop offset="0.9833" stop-color="#3d0059"/><stop offset="0.9917" stop-color="#3c0058"/><stop offset="1.0000" stop-color="#3c0058"/></linearGradient>
</defs>
<g id="panelA">
<path class="k" stroke-width="7" d="M247.5,598.0 L302,585.5"/>
<path class="k" stroke-width="7" d="M247.5,598.0 L897.1,874.15"/>
<path class="k" stroke-width="5.6" stroke-linejoin="miter" d="M895.1,873.3 L1817.3,679.8 L1725,641.3"/>
<path class="k" stroke-width="7" d="M341.7,638.0 l40,-7.2"/>
<path class="k" stroke-width="7" d="M434.0,677.3 l40,-7.2"/>
<path class="k" stroke-width="7" d="M526.3,716.5 l40,-7.2"/>
<path class="k" stroke-width="7" d="M618.6,755.8 l40,-7.2"/>
<path class="k" stroke-width="7" d="M710.9,795.0 l40,-7.2"/>
<path class="k" stroke-width="7" d="M803.2,834.2 l40,-7.2"/>
<path class="k" stroke-width="7" d="M1048.0,841.2 l-14.5,-6.2"/>
<path class="k" stroke-width="7" d="M1204.5,808.4 l-14.5,-6.2"/>
<path class="k" stroke-width="7" d="M1361.0,775.5 l-14.5,-6.2"/>
<path class="k" stroke-width="7" d="M1513.5,743.5 l-14.5,-6.2"/>
<path class="k" stroke-width="7" d="M1665.2,711.7 l-14.5,-6.2"/>
<polygon fill="url(#gspike)" points="293.1,581.3 400.0,555.7 464.7,540.3 529.4,521.7 572.0,508.5 594.2,500.7 622.4,488.8 643.1,478.5 660.4,468.0 675.9,456.0 689.8,442.2 701.8,425.0 710.5,407.7 717.4,390.5 722.5,371.5 726.9,352.5 730.3,331.8 733.8,305.9 736.9,280.0 738.6,261.2 741.0,235.3 742.9,203.0 744.6,170.6 746.4,138.3 747.7,112.4 750.0,103.3 753.0,97.5 756.5,95.8 760.0,97.5 763.0,103.3 764.9,112.4 765.8,138.3 767.5,170.6 769.4,203.0 771.4,235.3 774.0,261.2 776.0,280.0 779.5,305.9 783.3,331.8 788.1,352.5 793.3,369.7 800.2,385.3 808.8,399.0 819.2,411.2 831.3,419.8 845.0,425.8 860.5,429.4 884.7,432.6 909.0,432.6 933.3,431.0 981.8,426.1 1046.5,417.2 1100.0,407.9 1164.7,396.9 1213.3,387.5 1219.7,387.2 1227.8,391.3 1237.5,399.4 1245.6,405.8 1255.3,411.2 1278.0,420.4 1400.0,470.9 1778.8,633.4 853.0,828.8 391.8,632.2 353.0,616.0 330.3,606.3 314.1,596.6 302.8,587.7 293.1,581.3"/>
<polygon fill="url(#ghump)" points="300.0,583.0 400.0,557.5 464.7,542.5 529.4,524.0 600.0,500.5 623.0,491.5 644.0,481.0 661.5,470.5 677.0,458.5 691.0,444.5 703.0,427.5 712.0,411.0 720.8,393.9 726.9,378.4 731.2,366.3 736.3,352.5 741.5,337.0 746.7,321.4 749.3,316.6 752.0,315.6 764.8,315.2 766.6,317.1 770.9,330.0 776.0,345.6 781.2,357.7 786.4,369.7 791.6,380.1 798.5,392.2 807.1,404.3 818.0,414.5 830.5,422.5 844.5,428.2 862.0,432.0 884.7,434.5 909.0,434.6 933.3,433.0 981.8,428.0 1046.5,419.0 1120.0,406.5 1213.3,389.0 1222.0,389.5 1231.0,394.5 1237.5,399.4 1245.6,405.8 1255.3,411.2 1278.0,420.4 1400.0,470.9 1778.8,633.4 853.0,828.8 391.8,632.2 353.0,616.0 330.3,606.3 314.1,596.6 302.8,587.7"/>
<polygon fill="url(#gb2)" points="304.0,588.0 400.0,567.8 470.0,547.0 540.0,525.5 594.0,511.5 647.9,494.5 691.0,482.4 740.0,470.5 807.0,456.9 876.0,448.3 933.3,440.7 981.8,433.4 1046.5,422.9 1120.0,411.6 1213.0,393.0 1231.0,394.5 1237.5,399.4 1245.6,405.8 1255.3,411.2 1278.0,420.4 1400.0,470.9 1778.8,633.4 853.0,828.8 391.8,632.2 353.0,616.0 330.3,606.3 314.1,596.6"/>
<polygon fill="url(#gb3)" points="314.0,596.6 400.0,579.2 480.0,555.0 540.0,536.0 604.7,520.1 669.4,510.0 740.0,497.5 820.0,478.7 930.0,452.8 981.8,443.9 1046.5,428.5 1120.0,418.0 1213.0,399.0 1238.0,400.0 1245.6,405.8 1255.3,411.2 1278.0,420.4 1400.0,470.9 1778.8,633.4 853.0,828.8 391.8,632.2 353.0,616.0 330.3,606.3"/>
<polygon fill="#3c0058" points="322.0,602.0 400.0,588.0 480.0,566.0 540.0,547.1 577.8,536.3 609.0,527.7 719.0,506.0 820.0,486.8 933.3,459.3 1014.0,442.3 1120.0,425.3 1213.0,404.0 1245.0,405.5 1255.3,411.2 1278.0,420.4 1400.0,470.9 1778.8,633.4 853.0,828.8 391.8,632.2 353.0,616.0 330.3,606.3"/>
<path class="k" stroke-width="7.3" d="M247.5,601 L247.5,110.2"/>
<path class="k" stroke-width="7" d="M244,113.7 L275,113.7"/>
<text class="t70" transform="translate(192.0,138.7) scale(1.022,1)" text-anchor="end" >3000</text>
<path class="k" stroke-width="7" d="M244,194.2 L275,194.2"/>
<text class="t70" transform="translate(192.0,219.2) scale(1.022,1)" text-anchor="end" >2500</text>
<path class="k" stroke-width="7" d="M244,274.8 L275,274.8"/>
<text class="t70" transform="translate(192.0,299.8) scale(1.022,1)" text-anchor="end" >2000</text>
<path class="k" stroke-width="7" d="M244,355.3 L275,355.3"/>
<text class="t70" transform="translate(192.0,380.3) scale(1.022,1)" text-anchor="end" >1500</text>
<path class="k" stroke-width="7" d="M244,435.9 L275,435.9"/>
<text class="t70" transform="translate(192.0,460.9) scale(1.022,1)" text-anchor="end" >1000</text>
<path class="k" stroke-width="7" d="M244,516.5 L275,516.5"/>
<text class="t70" transform="translate(192.0,541.5) scale(1.022,1)" text-anchor="end" >500</text>
<text class="t70" transform="translate(258.5,679.5) scale(1.022,1)" text-anchor="middle" >10</text>
<text class="t70" transform="translate(441.6,758.8) scale(1.022,1)" text-anchor="middle" >30</text>
<text class="t70" transform="translate(626.6,837.4) scale(1.022,1)" text-anchor="middle" >50</text>
<text class="t70" transform="translate(808.6,917.4) scale(1.022,1)" text-anchor="middle" >70</text>
<text class="t70" transform="translate(1060.6,900.0) scale(1.022,1)" text-anchor="middle" >−2000</text>
<text class="t70" transform="translate(1250.5,862.4) scale(1.022,1)" text-anchor="middle" >−1000</text>
<text class="t70" transform="translate(1385.7,817.5) scale(1.022,1)" text-anchor="middle" >0</text>
<text class="t70" transform="translate(1584.5,783.7) scale(1.022,1)" text-anchor="middle" >1000</text>
<text class="t70" transform="translate(1743.5,758.5) scale(1.022,1)" text-anchor="middle" >2000</text>
<text class="t84" transform="translate(207.0,790.5) scale(1,1) rotate(29.1)" text-anchor="start" style="font-size:83px;letter-spacing:0.4px">Time (in ns)</text>
<text class="t84" transform="translate(945.5,1037.0) scale(1,1) rotate(-12.45)" text-anchor="start" >Distance along y−axis (in nm)</text>
<rect x="1834.5" y="103.3" width="77.8" height="379.8" fill="url(#palv)" stroke="#000" stroke-width="7"/>
<text class="t70" transform="translate(2024.5,132.6) scale(1.022,1)" text-anchor="middle" >3000</text>
<path class="k" stroke-width="7" d="M1836,166.6 L1861.7,166.6 M1885,166.6 L1911,166.6"/>
<text class="t70" transform="translate(2024.5,195.9) scale(1.022,1)" text-anchor="middle" >2500</text>
<path class="k" stroke-width="7" d="M1836,229.9 L1861.7,229.9 M1885,229.9 L1911,229.9"/>
<text class="t70" transform="translate(2024.5,259.2) scale(1.022,1)" text-anchor="middle" >2000</text>
<path class="k" stroke-width="7" d="M1836,293.2 L1861.7,293.2 M1885,293.2 L1911,293.2"/>
<text class="t70" transform="translate(2024.5,322.5) scale(1.022,1)" text-anchor="middle" >1500</text>
<path class="k" stroke-width="7" d="M1836,356.5 L1861.7,356.5 M1885,356.5 L1911,356.5"/>
<text class="t70" transform="translate(2024.5,385.8) scale(1.022,1)" text-anchor="middle" >1000</text>
<path class="k" stroke-width="7" d="M1836,419.8 L1861.7,419.8 M1885,419.8 L1911,419.8"/>
<text class="t70" transform="translate(2024.5,449.1) scale(1.022,1)" text-anchor="middle" >500</text>
<text class="t70" transform="translate(1938.2,66.5) scale(1,1)" text-anchor="middle" style="font-size:70px">(in Pa)</text>
<text x="1058.4" y="1131" text-anchor="middle" style="font-size:52.5px;stroke-width:0.3px">(a)</text>
</g>
<g id="panelB">
<rect x="355" y="1301.8" width="21.6" height="3.6" fill="#4f0091"/>
<rect x="355" y="1304.8" width="21.6" height="3.6" fill="#4f0091"/>
<rect x="355" y="1307.8" width="21.6" height="3.6" fill="#4f0092"/>
<rect x="355" y="1310.8" width="21.6" height="3.6" fill="#500093"/>
<rect x="355" y="1313.8" width="21.6" height="3.6" fill="#500093"/>
<rect x="355" y="1316.8" width="21.6" height="3.6" fill="#500094"/>
<rect x="355" y="1319.8" width="21.6" height="3.6" fill="#500095"/>
<rect x="355" y="1322.8" width="21.6" height="3.6" fill="#510096"/>
<rect x="355" y="1325.8" width="21.6" height="3.6" fill="#510096"/>
<rect x="355" y="1328.8" width="21.6" height="3.6" fill="#510097"/>
<rect x="355" y="1331.8" width="21.6" height="3.6" fill="#510098"/>
<rect x="355" y="1334.8" width="21.6" height="3.6" fill="#510098"/>
<rect x="355" y="1337.8" width="21.6" height="3.6" fill="#520099"/>
<rect x="355" y="1340.8" width="21.6" height="3.6" fill="#52009a"/>
<rect x="355" y="1343.8" width="21.6" height="3.6" fill="#52009a"/>
<rect x="355" y="1346.8" width="21.6" height="3.6" fill="#52009b"/>
<rect x="355" y="1349.8" width="21.6" height="3.6" fill="#52009c"/>
<rect x="355" y="1352.8" width="21.6" height="3.6" fill="#53009c"/>
<rect x="355" y="1355.8" width="21.6" height="3.6" fill="#53009d"/>
<rect x="355" y="1358.8" width="21.6" height="3.6" fill="#53009e"/>
<rect x="355" y="1361.8" width="21.6" height="3.6" fill="#53009e"/>
<rect x="355" y="1364.8" width="21.6" height="3.6" fill="#53009f"/>
<rect x="355" y="1367.8" width="21.6" height="3.6" fill="#5400a0"/>
<rect x="355" y="1370.8" width="21.6" height="3.6" fill="#5400a0"/>
<rect x="355" y="1373.8" width="21.6" height="3.6" fill="#5400a1"/>
<rect x="355" y="1376.8" width="21.6" height="3.6" fill="#5400a2"/>
<rect x="355" y="1379.8" width="21.6" height="3.6" fill="#5400a2"/>
<rect x="355" y="1382.8" width="21.6" height="3.6" fill="#5500a3"/>
<rect x="355" y="1385.8" width="21.6" height="3.6" fill="#5500a4"/>
<rect x="355" y="1388.8" width="21.6" height="3.6" fill="#5500a4"/>
<rect x="355" y="1391.8" width="21.6" height="3.6" fill="#5500a5"/>
<rect x="355" y="1394.8" width="21.6" height="3.6" fill="#5500a5"/>
<rect x="355" y="1397.8" width="21.6" height="3.6" fill="#5600a6"/>
<rect x="355" y="1400.8" width="21.6" height="3.6" fill="#5600a7"/>
<rect x="355" y="1403.8" width="21.6" height="3.6" fill="#5600a7"/>
<rect x="355" y="1406.8" width="21.6" height="3.6" fill="#5600a8"/>
<rect x="355" y="1409.8" width="21.6" height="3.6" fill="#5600a9"/>
<rect x="355" y="1412.8" width="21.6" height="3.6" fill="#5700a9"/>
<rect x="355" y="1415.8" width="21.6" height="3.6" fill="#5700aa"/>
<rect x="355" y="1418.8" width="21.6" height="3.6" fill="#5700ab"/>
<rect x="355" y="1421.8" width="21.6" height="3.6" fill="#5700ab"/>
<rect x="355" y="1424.8" width="21.6" height="3.6" fill="#5700ac"/>
<rect x="355" y="1427.8" width="21.6" height="3.6" fill="#5800ac"/>
<rect x="355" y="1430.8" width="21.6" height="3.6" fill="#5800ad"/>
<rect x="355" y="1433.8" width="21.6" height="3.6" fill="#5800ae"/>
<rect x="355" y="1436.8" width="21.6" height="3.6" fill="#5800ae"/>
<rect x="355" y="1439.8" width="21.6" height="3.6" fill="#5800af"/>
<rect x="355" y="1442.8" width="21.6" height="3.6" fill="#5900b0"/>
<rect x="355" y="1445.8" width="21.6" height="3.6" fill="#5900b0"/>
<rect x="355" y="1448.8" width="21.6" height="3.6" fill="#5900b1"/>
<rect x="355" y="1451.8" width="21.6" height="3.6" fill="#5900b1"/>
<rect x="355" y="1454.8" width="21.6" height="3.6" fill="#5900b2"/>
<rect x="355" y="1457.8" width="21.6" height="3.6" fill="#5a00b3"/>
<rect x="355" y="1460.8" width="21.6" height="3.6" fill="#5a00b3"/>
<rect x="355" y="1463.8" width="21.6" height="3.6" fill="#5a00b4"/>
<rect x="355" y="1466.8" width="21.6" height="3.6" fill="#5a01b5"/>
<rect x="355" y="1469.8" width="21.6" height="3.6" fill="#5b01b7"/>
<rect x="355" y="1472.8" width="21.6" height="3.6" fill="#5c01b9"/>
<rect x="355" y="1475.8" width="21.6" height="3.6" fill="#5c01bb"/>
<rect x="355" y="1478.8" width="21.6" height="3.6" fill="#5d01be"/>
<rect x="355" y="1481.8" width="21.6" height="3.6" fill="#5e01c0"/>
<rect x="355" y="1484.8" width="21.6" height="3.6" fill="#5f01c2"/>
<rect x="355" y="1487.8" width="21.6" height="3.6" fill="#5f01c4"/>
<rect x="355" y="1490.8" width="21.6" height="3.6" fill="#6001c6"/>
<rect x="355" y="1493.8" width="21.6" height="3.6" fill="#6101c8"/>
<rect x="355" y="1496.8" width="21.6" height="3.6" fill="#6101ca"/>
<rect x="355" y="1499.8" width="21.6" height="3.6" fill="#6201cc"/>
<rect x="355" y="1502.8" width="21.6" height="3.6" fill="#6301ce"/>
<rect x="355" y="1505.8" width="21.6" height="3.6" fill="#6301d0"/>
<rect x="355" y="1508.8" width="21.6" height="3.6" fill="#6401d2"/>
<rect x="355" y="1511.8" width="21.6" height="3.6" fill="#6501d4"/>
<rect x="355" y="1514.8" width="21.6" height="3.6" fill="#6601d6"/>
<rect x="355" y="1517.8" width="21.6" height="3.6" fill="#6601d8"/>
<rect x="355" y="1520.8" width="21.6" height="3.6" fill="#6701da"/>
<rect x="355" y="1523.8" width="21.6" height="3.6" fill="#6701db"/>
<rect x="355" y="1526.8" width="21.6" height="3.6" fill="#6801dd"/>
<rect x="355" y="1529.8" width="21.6" height="3.6" fill="#6901df"/>
<rect x="355" y="1532.8" width="21.6" height="3.6" fill="#6a01e1"/>
<rect x="355" y="1535.8" width="21.6" height="3.6" fill="#6c01e5"/>
<rect x="355" y="1538.8" width="21.6" height="3.6" fill="#6d02e9"/>
<rect x="355" y="1541.8" width="21.6" height="3.6" fill="#6f02ed"/>
<rect x="355" y="1544.8" width="21.6" height="3.6" fill="#7102f0"/>
<rect x="355" y="1547.8" width="21.6" height="3.6" fill="#7202f3"/>
<rect x="355" y="1550.8" width="21.6" height="3.6" fill="#7402f5"/>
<rect x="355" y="1553.8" width="21.6" height="3.6" fill="#7502f8"/>
<rect x="355" y="1556.8" width="21.6" height="3.6" fill="#7703fa"/>
<rect x="355" y="1559.8" width="21.6" height="3.6" fill="#7803fb"/>
<rect x="355" y="1562.8" width="21.6" height="3.6" fill="#7a03fd"/>
<rect x="355" y="1565.8" width="21.6" height="3.6" fill="#7b03fe"/>
<rect x="355" y="1568.8" width="21.6" height="3.6" fill="#7d03fe"/>
<rect x="355" y="1571.8" width="21.6" height="3.6" fill="#7e04ff"/>
<rect x="355" y="1574.8" width="21.6" height="3.6" fill="#8004ff"/>
<rect x="355" y="1577.8" width="21.6" height="3.6" fill="#8004ff"/>
<rect x="355" y="1580.8" width="21.6" height="3.6" fill="#8104ff"/>
<rect x="355" y="1583.8" width="21.6" height="3.6" fill="#8204ff"/>
<rect x="355" y="1586.8" width="21.6" height="3.6" fill="#8205fe"/>
<rect x="355" y="1589.8" width="21.6" height="3.6" fill="#8305fe"/>
<rect x="355" y="1592.8" width="21.6" height="3.6" fill="#8405fe"/>
<rect x="355" y="1595.8" width="21.6" height="3.6" fill="#8405fd"/>
<rect x="355" y="1598.8" width="21.6" height="3.6" fill="#8706fa"/>
<rect x="355" y="1601.8" width="21.6" height="3.6" fill="#8a06f5"/>
<rect x="355" y="1604.8" width="21.6" height="3.6" fill="#8d07ee"/>
<rect x="355" y="1607.8" width="21.6" height="3.6" fill="#9109e5"/>
<rect x="355" y="1610.8" width="21.6" height="3.6" fill="#960bd0"/>
<rect x="355" y="1613.8" width="21.6" height="3.6" fill="#9c0db5"/>
<rect x="355" y="1616.8" width="21.6" height="3.6" fill="#a00f9f"/>
<rect x="355" y="1619.8" width="21.6" height="3.6" fill="#a31288"/>
<rect x="355" y="1622.8" width="21.6" height="3.6" fill="#a81568"/>
<rect x="355" y="1625.8" width="21.6" height="3.6" fill="#ae193b"/>
<rect x="355" y="1628.8" width="21.6" height="3.6" fill="#b21e12"/>
<rect x="355" y="1631.8" width="21.6" height="3.6" fill="#b62200"/>
<rect x="355" y="1634.8" width="21.6" height="3.6" fill="#bd2b00"/>
<rect x="355" y="1637.8" width="21.6" height="3.6" fill="#c93e00"/>
<rect x="355" y="1640.8" width="21.6" height="3.6" fill="#cc4300"/>
<rect x="355" y="1643.8" width="21.6" height="3.6" fill="#cd4400"/>
<rect x="355" y="1646.8" width="21.6" height="3.6" fill="#cd4500"/>
<rect x="355" y="1649.8" width="21.6" height="3.6" fill="#cd4600"/>
<rect x="355" y="1652.8" width="21.6" height="3.6" fill="#cd4500"/>
<rect x="355" y="1655.8" width="21.6" height="3.6" fill="#cd4500"/>
<rect x="355" y="1658.8" width="21.6" height="3.6" fill="#cc4400"/>
<rect x="355" y="1661.8" width="21.6" height="3.6" fill="#cc4300"/>
<rect x="355" y="1664.8" width="21.6" height="3.6" fill="#c33300"/>
<rect x="355" y="1667.8" width="21.6" height="3.6" fill="#b82300"/>
<rect x="355" y="1670.8" width="21.6" height="3.6" fill="#b41f03"/>
<rect x="355" y="1673.8" width="21.6" height="3.6" fill="#b01c25"/>
<rect x="355" y="1676.8" width="21.6" height="3.6" fill="#aa1753"/>
<rect x="355" y="1679.8" width="21.6" height="3.6" fill="#a5137d"/>
<rect x="355" y="1682.8" width="21.6" height="3.6" fill="#a21094"/>
<rect x="355" y="1685.8" width="21.6" height="3.6" fill="#9e0eaa"/>
<rect x="355" y="1688.8" width="21.6" height="3.6" fill="#990cc4"/>
<rect x="355" y="1691.8" width="21.6" height="3.6" fill="#930adc"/>
<rect x="355" y="1694.8" width="21.6" height="3.6" fill="#8f08eb"/>
<rect x="355" y="1697.8" width="21.6" height="3.6" fill="#8c07f2"/>
<rect x="355" y="1700.8" width="21.6" height="3.6" fill="#8906f8"/>
<rect x="355" y="1703.8" width="21.6" height="3.6" fill="#8505fc"/>
<rect x="355" y="1706.8" width="21.6" height="3.6" fill="#8405fd"/>
<rect x="355" y="1709.8" width="21.6" height="3.6" fill="#8305fe"/>
<rect x="355" y="1712.8" width="21.6" height="3.6" fill="#8305fe"/>
<rect x="355" y="1715.8" width="21.6" height="3.6" fill="#8204ff"/>
<rect x="355" y="1718.8" width="21.6" height="3.6" fill="#8104ff"/>
<rect x="355" y="1721.8" width="21.6" height="3.6" fill="#8104ff"/>
<rect x="355" y="1724.8" width="21.6" height="3.6" fill="#8004ff"/>
<rect x="355" y="1727.8" width="21.6" height="3.6" fill="#7f04ff"/>
<rect x="355" y="1730.8" width="21.6" height="3.6" fill="#7d04ff"/>
<rect x="355" y="1733.8" width="21.6" height="3.6" fill="#7c03fe"/>
<rect x="355" y="1736.8" width="21.6" height="3.6" fill="#7b03fd"/>
<rect x="355" y="1739.8" width="21.6" height="3.6" fill="#7903fc"/>
<rect x="355" y="1742.8" width="21.6" height="3.6" fill="#7803fa"/>
<rect x="355" y="1745.8" width="21.6" height="3.6" fill="#7603f9"/>
<rect x="355" y="1748.8" width="21.6" height="3.6" fill="#7402f6"/>
<rect x="355" y="1751.8" width="21.6" height="3.6" fill="#7302f4"/>
<rect x="355" y="1754.8" width="21.6" height="3.6" fill="#7102f1"/>
<rect x="355" y="1757.8" width="21.6" height="3.6" fill="#7002ee"/>
<rect x="355" y="1760.8" width="21.6" height="3.6" fill="#6e02eb"/>
<rect x="355" y="1763.8" width="21.6" height="3.6" fill="#6c02e7"/>
<rect x="355" y="1766.8" width="21.6" height="3.6" fill="#6b01e3"/>
<rect x="355" y="1769.8" width="21.6" height="3.6" fill="#6901df"/>
<rect x="355" y="1772.8" width="21.6" height="3.6" fill="#6801de"/>
<rect x="355" y="1775.8" width="21.6" height="3.6" fill="#6801dc"/>
<rect x="355" y="1778.8" width="21.6" height="3.6" fill="#6701da"/>
<rect x="355" y="1781.8" width="21.6" height="3.6" fill="#6601d9"/>
<rect x="355" y="1784.8" width="21.6" height="3.6" fill="#6601d7"/>
<rect x="355" y="1787.8" width="21.6" height="3.6" fill="#6501d5"/>
<rect x="355" y="1790.8" width="21.6" height="3.6" fill="#6401d3"/>
<rect x="355" y="1793.8" width="21.6" height="3.6" fill="#6401d1"/>
<rect x="355" y="1796.8" width="21.6" height="3.6" fill="#6301cf"/>
<rect x="355" y="1799.8" width="21.6" height="3.6" fill="#6201cd"/>
<rect x="355" y="1802.8" width="21.6" height="3.6" fill="#6201cb"/>
<rect x="355" y="1805.8" width="21.6" height="3.6" fill="#6101c9"/>
<rect x="355" y="1808.8" width="21.6" height="3.6" fill="#6001c7"/>
<rect x="355" y="1811.8" width="21.6" height="3.6" fill="#6001c5"/>
<rect x="355" y="1814.8" width="21.6" height="3.6" fill="#5f01c3"/>
<rect x="355" y="1817.8" width="21.6" height="3.6" fill="#5e01c1"/>
<rect x="355" y="1820.8" width="21.6" height="3.6" fill="#5e01bf"/>
<rect x="355" y="1823.8" width="21.6" height="3.6" fill="#5d01bd"/>
<rect x="355" y="1826.8" width="21.6" height="3.6" fill="#5c01ba"/>
<rect x="355" y="1829.8" width="21.6" height="3.6" fill="#5b01b8"/>
<rect x="355" y="1832.8" width="21.6" height="3.6" fill="#5b01b6"/>
<rect x="355" y="1835.8" width="21.6" height="3.6" fill="#5a00b4"/>
<rect x="355" y="1838.8" width="21.6" height="3.6" fill="#5a00b3"/>
<rect x="355" y="1841.8" width="21.6" height="3.6" fill="#5a00b3"/>
<rect x="355" y="1844.8" width="21.6" height="3.6" fill="#5a00b2"/>
<rect x="355" y="1847.8" width="21.6" height="3.6" fill="#5900b2"/>
<rect x="355" y="1850.8" width="21.6" height="3.6" fill="#5900b1"/>
<rect x="355" y="1853.8" width="21.6" height="3.6" fill="#5900b0"/>
<rect x="355" y="1856.8" width="21.6" height="3.6" fill="#5900b0"/>
<rect x="355" y="1859.8" width="21.6" height="3.6" fill="#5900af"/>
<rect x="355" y="1862.8" width="21.6" height="3.6" fill="#5800af"/>
<rect x="355" y="1865.8" width="21.6" height="3.6" fill="#5800ae"/>
<rect x="355" y="1868.8" width="21.6" height="3.6" fill="#5800ad"/>
<rect x="355" y="1871.8" width="21.6" height="3.6" fill="#5800ad"/>
<rect x="355" y="1874.8" width="21.6" height="3.6" fill="#5800ac"/>
<rect x="355" y="1877.8" width="21.6" height="3.6" fill="#5700ab"/>
<rect x="355" y="1880.8" width="21.6" height="3.6" fill="#5700ab"/>
<rect x="355" y="1883.8" width="21.6" height="3.6" fill="#5700aa"/>
<rect x="355" y="1886.8" width="21.6" height="3.6" fill="#5700aa"/>
<rect x="355" y="1889.8" width="21.6" height="3.6" fill="#5700a9"/>
<rect x="355" y="1892.8" width="21.6" height="3.6" fill="#5600a8"/>
<rect x="355" y="1895.8" width="21.6" height="3.6" fill="#5600a8"/>
<rect x="355" y="1898.8" width="21.6" height="3.6" fill="#5600a7"/>
<rect x="355" y="1901.8" width="21.6" height="3.6" fill="#5600a6"/>
<rect x="355" y="1904.8" width="21.6" height="3.6" fill="#5600a6"/>
<rect x="355" y="1907.8" width="21.6" height="3.6" fill="#5500a5"/>
<rect x="355" y="1910.8" width="21.6" height="3.6" fill="#5500a4"/>
<rect x="355" y="1913.8" width="21.6" height="3.6" fill="#5500a4"/>
<rect x="355" y="1916.8" width="21.6" height="3.6" fill="#5500a3"/>
<rect x="355" y="1919.8" width="21.6" height="3.6" fill="#5500a3"/>
<rect x="355" y="1922.8" width="21.6" height="3.6" fill="#5400a2"/>
<rect x="355" y="1925.8" width="21.6" height="3.6" fill="#5400a1"/>
<rect x="355" y="1928.8" width="21.6" height="3.6" fill="#5400a1"/>
<rect x="355" y="1931.8" width="21.6" height="3.6" fill="#5400a0"/>
<rect x="355" y="1934.8" width="21.6" height="3.6" fill="#54009f"/>
<rect x="355" y="1937.8" width="21.6" height="3.6" fill="#53009f"/>
<rect x="355" y="1940.8" width="21.6" height="3.6" fill="#53009e"/>
<rect x="355" y="1943.8" width="21.6" height="3.6" fill="#53009d"/>
<rect x="355" y="1946.8" width="21.6" height="3.6" fill="#53009d"/>
<rect x="355" y="1949.8" width="21.6" height="3.6" fill="#53009c"/>
<rect x="355" y="1952.8" width="21.6" height="3.6" fill="#52009b"/>
<rect x="355" y="1955.8" width="21.6" height="3.6" fill="#52009b"/>
<rect x="355" y="1958.8" width="21.6" height="3.6" fill="#52009a"/>
<rect x="355" y="1961.8" width="21.6" height="3.6" fill="#520099"/>
<rect x="355" y="1964.8" width="21.6" height="3.6" fill="#510099"/>
<rect x="355" y="1967.8" width="21.6" height="3.6" fill="#510098"/>
<rect x="355" y="1970.8" width="21.6" height="3.6" fill="#510097"/>
<rect x="355" y="1973.8" width="21.6" height="3.6" fill="#510097"/>
<rect x="355" y="1976.8" width="21.6" height="3.6" fill="#510096"/>
<rect x="355" y="1979.8" width="21.6" height="3.6" fill="#500095"/>
<rect x="355" y="1982.8" width="21.6" height="3.6" fill="#500095"/>
<rect x="355" y="1985.8" width="21.6" height="3.6" fill="#500094"/>
<rect x="355" y="1988.8" width="21.6" height="3.6" fill="#500093"/>
<rect x="355" y="1991.8" width="21.6" height="3.6" fill="#500092"/>
<rect x="355" y="1994.8" width="21.6" height="3.6" fill="#4f0092"/>
<rect x="355" y="1997.8" width="21.6" height="2.8" fill="#4f0091"/>
<rect x="376" y="1301.8" width="155.6" height="3.6" fill="#4b0084"/>
<rect x="376" y="1304.8" width="155.6" height="3.6" fill="#4b0084"/>
<rect x="376" y="1307.8" width="155.6" height="3.6" fill="#4b0084"/>
<rect x="376" y="1310.8" width="155.6" height="3.6" fill="#4b0084"/>
<rect x="376" y="1313.8" width="155.6" height="3.6" fill="#4b0084"/>
<rect x="376" y="1316.8" width="155.6" height="3.6" fill="#4b0084"/>
<rect x="376" y="1319.8" width="155.6" height="3.6" fill="#4b0084"/>
<rect x="376" y="1322.8" width="155.6" height="3.6" fill="#4b0084"/>
<rect x="376" y="1325.8" width="155.6" height="3.6" fill="#4b0084"/>
<rect x="376" y="1328.8" width="155.6" height="3.6" fill="#4b0084"/>
<rect x="376" y="1331.8" width="155.6" height="3.6" fill="#4b0084"/>
<rect x="376" y="1334.8" width="155.6" height="3.6" fill="#4c0088"/>
<rect x="376" y="1337.8" width="155.6" height="3.6" fill="#4f0091"/>
<rect x="376" y="1340.8" width="155.6" height="3.6" fill="#4f0091"/>
<rect x="376" y="1343.8" width="155.6" height="3.6" fill="#4f0091"/>
<rect x="376" y="1346.8" width="155.6" height="3.6" fill="#4f0092"/>
<rect x="376" y="1349.8" width="155.6" height="3.6" fill="#4f0092"/>
<rect x="376" y="1352.8" width="155.6" height="3.6" fill="#4f0092"/>
<rect x="376" y="1355.8" width="155.6" height="3.6" fill="#500092"/>
<rect x="376" y="1358.8" width="155.6" height="3.6" fill="#500093"/>
<rect x="376" y="1361.8" width="155.6" height="3.6" fill="#500093"/>
<rect x="376" y="1364.8" width="155.6" height="3.6" fill="#500093"/>
<rect x="376" y="1367.8" width="155.6" height="3.6" fill="#500094"/>
<rect x="376" y="1370.8" width="155.6" height="3.6" fill="#500094"/>
<rect x="376" y="1373.8" width="155.6" height="3.6" fill="#500094"/>
<rect x="376" y="1376.8" width="155.6" height="3.6" fill="#500094"/>
<rect x="376" y="1379.8" width="155.6" height="3.6" fill="#500095"/>
<rect x="376" y="1382.8" width="155.6" height="3.6" fill="#500095"/>
<rect x="376" y="1385.8" width="155.6" height="3.6" fill="#500095"/>
<rect x="376" y="1388.8" width="155.6" height="3.6" fill="#510095"/>
<rect x="376" y="1391.8" width="155.6" height="3.6" fill="#510096"/>
<rect x="376" y="1394.8" width="155.6" height="3.6" fill="#510096"/>
<rect x="376" y="1397.8" width="155.6" height="3.6" fill="#510096"/>
<rect x="376" y="1400.8" width="155.6" height="3.6" fill="#510097"/>
<rect x="376" y="1403.8" width="155.6" height="3.6" fill="#510097"/>
<rect x="376" y="1406.8" width="155.6" height="3.6" fill="#510097"/>
<rect x="376" y="1409.8" width="155.6" height="3.6" fill="#510097"/>
<rect x="376" y="1412.8" width="155.6" height="3.6" fill="#510098"/>
<rect x="376" y="1415.8" width="155.6" height="3.6" fill="#510098"/>
<rect x="376" y="1418.8" width="155.6" height="3.6" fill="#510098"/>
<rect x="376" y="1421.8" width="155.6" height="3.6" fill="#510098"/>
<rect x="376" y="1424.8" width="155.6" height="3.6" fill="#510099"/>
<rect x="376" y="1427.8" width="155.6" height="3.6" fill="#520099"/>
<rect x="376" y="1430.8" width="155.6" height="3.6" fill="#520099"/>
<rect x="376" y="1433.8" width="155.6" height="3.6" fill="#520099"/>
<rect x="376" y="1436.8" width="155.6" height="3.6" fill="#52009a"/>
<rect x="376" y="1439.8" width="155.6" height="3.6" fill="#52009a"/>
<rect x="376" y="1442.8" width="155.6" height="3.6" fill="#52009a"/>
<rect x="376" y="1445.8" width="155.6" height="3.6" fill="#52009a"/>
<rect x="376" y="1448.8" width="155.6" height="3.6" fill="#52009b"/>
<rect x="376" y="1451.8" width="155.6" height="3.6" fill="#52009b"/>
<rect x="376" y="1454.8" width="155.6" height="3.6" fill="#52009b"/>
<rect x="376" y="1457.8" width="155.6" height="3.6" fill="#52009c"/>
<rect x="376" y="1460.8" width="155.6" height="3.6" fill="#52009c"/>
<rect x="376" y="1463.8" width="155.6" height="3.6" fill="#53009c"/>
<rect x="376" y="1466.8" width="155.6" height="3.6" fill="#53009c"/>
<rect x="376" y="1469.8" width="155.6" height="3.6" fill="#53009e"/>
<rect x="376" y="1472.8" width="155.6" height="3.6" fill="#54009f"/>
<rect x="376" y="1475.8" width="155.6" height="3.6" fill="#5400a1"/>
<rect x="376" y="1478.8" width="155.6" height="3.6" fill="#5400a2"/>
<rect x="376" y="1481.8" width="155.6" height="3.6" fill="#5500a4"/>
<rect x="376" y="1484.8" width="155.6" height="3.6" fill="#5500a5"/>
<rect x="376" y="1487.8" width="155.6" height="3.6" fill="#5600a6"/>
<rect x="376" y="1490.8" width="155.6" height="3.6" fill="#5600a8"/>
<rect x="376" y="1493.8" width="155.6" height="3.6" fill="#5700a9"/>
<rect x="376" y="1496.8" width="155.6" height="3.6" fill="#5700ab"/>
<rect x="376" y="1499.8" width="155.6" height="3.6" fill="#5800ac"/>
<rect x="376" y="1502.8" width="155.6" height="3.6" fill="#5800ad"/>
<rect x="376" y="1505.8" width="155.6" height="3.6" fill="#5800af"/>
<rect x="376" y="1508.8" width="155.6" height="3.6" fill="#5900b0"/>
<rect x="376" y="1511.8" width="155.6" height="3.6" fill="#5900b1"/>
<rect x="376" y="1514.8" width="155.6" height="3.6" fill="#5a00b3"/>
<rect x="376" y="1517.8" width="155.6" height="3.6" fill="#5a00b4"/>
<rect x="376" y="1520.8" width="155.6" height="3.6" fill="#5a01b5"/>
<rect x="376" y="1523.8" width="155.6" height="3.6" fill="#5b01b7"/>
<rect x="376" y="1526.8" width="155.6" height="3.6" fill="#5b01b8"/>
<rect x="376" y="1529.8" width="155.6" height="3.6" fill="#5c01b9"/>
<rect x="376" y="1532.8" width="155.6" height="3.6" fill="#5c01bb"/>
<rect x="376" y="1535.8" width="155.6" height="3.6" fill="#5d01be"/>
<rect x="376" y="1538.8" width="155.6" height="3.6" fill="#5e01c0"/>
<rect x="376" y="1541.8" width="155.6" height="3.6" fill="#5f01c3"/>
<rect x="376" y="1544.8" width="155.6" height="3.6" fill="#6001c6"/>
<rect x="376" y="1547.8" width="155.6" height="3.6" fill="#6101c8"/>
<rect x="376" y="1550.8" width="155.6" height="3.6" fill="#6101cb"/>
<rect x="376" y="1553.8" width="155.6" height="3.6" fill="#6201cd"/>
<rect x="376" y="1556.8" width="155.6" height="3.6" fill="#6301cf"/>
<rect x="376" y="1559.8" width="155.6" height="3.6" fill="#6401d2"/>
<rect x="376" y="1562.8" width="155.6" height="3.6" fill="#6501d4"/>
<rect x="376" y="1565.8" width="155.6" height="3.6" fill="#6601d6"/>
<rect x="376" y="1568.8" width="155.6" height="3.6" fill="#6601d8"/>
<rect x="376" y="1571.8" width="155.6" height="3.6" fill="#6701da"/>
<rect x="376" y="1574.8" width="155.6" height="3.6" fill="#6801dd"/>
<rect x="376" y="1577.8" width="155.6" height="3.6" fill="#6a01e1"/>
<rect x="376" y="1580.8" width="155.6" height="3.6" fill="#6b01e4"/>
<rect x="376" y="1583.8" width="155.6" height="3.6" fill="#6d02e8"/>
<rect x="376" y="1586.8" width="155.6" height="3.6" fill="#6e02eb"/>
<rect x="376" y="1589.8" width="155.6" height="3.6" fill="#6f02ee"/>
<rect x="376" y="1592.8" width="155.6" height="3.6" fill="#7102f0"/>
<rect x="376" y="1595.8" width="155.6" height="3.6" fill="#7202f3"/>
<rect x="376" y="1598.8" width="155.6" height="3.6" fill="#7402f5"/>
<rect x="376" y="1601.8" width="155.6" height="3.6" fill="#7502f7"/>
<rect x="376" y="1604.8" width="155.6" height="3.6" fill="#7603f9"/>
<rect x="376" y="1607.8" width="155.6" height="3.6" fill="#7803fb"/>
<rect x="376" y="1610.8" width="155.6" height="3.6" fill="#7903fc"/>
<rect x="376" y="1613.8" width="155.6" height="3.6" fill="#7a03fd"/>
<rect x="376" y="1616.8" width="155.6" height="3.6" fill="#7b03fd"/>
<rect x="376" y="1619.8" width="155.6" height="3.6" fill="#7c03fe"/>
<rect x="376" y="1622.8" width="155.6" height="3.6" fill="#7d04ff"/>
<rect x="376" y="1625.8" width="155.6" height="3.6" fill="#7e04ff"/>
<rect x="376" y="1628.8" width="155.6" height="3.6" fill="#7f04ff"/>
<rect x="376" y="1631.8" width="155.6" height="3.6" fill="#8004ff"/>
<rect x="376" y="1634.8" width="155.6" height="3.6" fill="#8004ff"/>
<rect x="376" y="1637.8" width="155.6" height="3.6" fill="#8004ff"/>
<rect x="376" y="1640.8" width="155.6" height="3.6" fill="#8004ff"/>
<rect x="376" y="1643.8" width="155.6" height="3.6" fill="#8004ff"/>
<rect x="376" y="1646.8" width="155.6" height="3.6" fill="#8004ff"/>
<rect x="376" y="1649.8" width="155.6" height="3.6" fill="#8004ff"/>
<rect x="376" y="1652.8" width="155.6" height="3.6" fill="#8004ff"/>
<rect x="376" y="1655.8" width="155.6" height="3.6" fill="#8004ff"/>
<rect x="376" y="1658.8" width="155.6" height="3.6" fill="#8004ff"/>
<rect x="376" y="1661.8" width="155.6" height="3.6" fill="#8004ff"/>
<rect x="376" y="1664.8" width="155.6" height="3.6" fill="#8004ff"/>
<rect x="376" y="1667.8" width="155.6" height="3.6" fill="#8004ff"/>
<rect x="376" y="1670.8" width="155.6" height="3.6" fill="#8004ff"/>
<rect x="376" y="1673.8" width="155.6" height="3.6" fill="#7f04ff"/>
<rect x="376" y="1676.8" width="155.6" height="3.6" fill="#7e04ff"/>
<rect x="376" y="1679.8" width="155.6" height="3.6" fill="#7d03fe"/>
<rect x="376" y="1682.8" width="155.6" height="3.6" fill="#7c03fe"/>
<rect x="376" y="1685.8" width="155.6" height="3.6" fill="#7a03fd"/>
<rect x="376" y="1688.8" width="155.6" height="3.6" fill="#7903fc"/>
<rect x="376" y="1691.8" width="155.6" height="3.6" fill="#7803fb"/>
<rect x="376" y="1694.8" width="155.6" height="3.6" fill="#7703fa"/>
<rect x="376" y="1697.8" width="155.6" height="3.6" fill="#7602f8"/>
<rect x="376" y="1700.8" width="155.6" height="3.6" fill="#7402f6"/>
<rect x="376" y="1703.8" width="155.6" height="3.6" fill="#7302f4"/>
<rect x="376" y="1706.8" width="155.6" height="3.6" fill="#7202f2"/>
<rect x="376" y="1709.8" width="155.6" height="3.6" fill="#7002ef"/>
<rect x="376" y="1712.8" width="155.6" height="3.6" fill="#6f02ec"/>
<rect x="376" y="1715.8" width="155.6" height="3.6" fill="#6d02e9"/>
<rect x="376" y="1718.8" width="155.6" height="3.6" fill="#6c01e6"/>
<rect x="376" y="1721.8" width="155.6" height="3.6" fill="#6a01e2"/>
<rect x="376" y="1724.8" width="155.6" height="3.6" fill="#6901df"/>
<rect x="376" y="1727.8" width="155.6" height="3.6" fill="#6801db"/>
<rect x="376" y="1730.8" width="155.6" height="3.6" fill="#6701d9"/>
<rect x="376" y="1733.8" width="155.6" height="3.6" fill="#6601d7"/>
<rect x="376" y="1736.8" width="155.6" height="3.6" fill="#6501d5"/>
<rect x="376" y="1739.8" width="155.6" height="3.6" fill="#6401d3"/>
<rect x="376" y="1742.8" width="155.6" height="3.6" fill="#6401d0"/>
<rect x="376" y="1745.8" width="155.6" height="3.6" fill="#6301ce"/>
<rect x="376" y="1748.8" width="155.6" height="3.6" fill="#6201cc"/>
<rect x="376" y="1751.8" width="155.6" height="3.6" fill="#6101c9"/>
<rect x="376" y="1754.8" width="155.6" height="3.6" fill="#6001c7"/>
<rect x="376" y="1757.8" width="155.6" height="3.6" fill="#5f01c4"/>
<rect x="376" y="1760.8" width="155.6" height="3.6" fill="#5e01c2"/>
<rect x="376" y="1763.8" width="155.6" height="3.6" fill="#5e01bf"/>
<rect x="376" y="1766.8" width="155.6" height="3.6" fill="#5d01bc"/>
<rect x="376" y="1769.8" width="155.6" height="3.6" fill="#5c01ba"/>
<rect x="376" y="1772.8" width="155.6" height="3.6" fill="#5b01b8"/>
<rect x="376" y="1775.8" width="155.6" height="3.6" fill="#5b01b7"/>
<rect x="376" y="1778.8" width="155.6" height="3.6" fill="#5b01b6"/>
<rect x="376" y="1781.8" width="155.6" height="3.6" fill="#5a01b5"/>
<rect x="376" y="1784.8" width="155.6" height="3.6" fill="#5a00b3"/>
<rect x="376" y="1787.8" width="155.6" height="3.6" fill="#5900b2"/>
<rect x="376" y="1790.8" width="155.6" height="3.6" fill="#5900b1"/>
<rect x="376" y="1793.8" width="155.6" height="3.6" fill="#5900af"/>
<rect x="376" y="1796.8" width="155.6" height="3.6" fill="#5800ae"/>
<rect x="376" y="1799.8" width="155.6" height="3.6" fill="#5800ad"/>
<rect x="376" y="1802.8" width="155.6" height="3.6" fill="#5700ab"/>
<rect x="376" y="1805.8" width="155.6" height="3.6" fill="#5700aa"/>
<rect x="376" y="1808.8" width="155.6" height="3.6" fill="#5600a8"/>
<rect x="376" y="1811.8" width="155.6" height="3.6" fill="#5600a7"/>
<rect x="376" y="1814.8" width="155.6" height="3.6" fill="#5600a6"/>
<rect x="376" y="1817.8" width="155.6" height="3.6" fill="#5500a4"/>
<rect x="376" y="1820.8" width="155.6" height="3.6" fill="#5500a3"/>
<rect x="376" y="1823.8" width="155.6" height="3.6" fill="#5400a1"/>
<rect x="376" y="1826.8" width="155.6" height="3.6" fill="#5400a0"/>
<rect x="376" y="1829.8" width="155.6" height="3.6" fill="#53009f"/>
<rect x="376" y="1832.8" width="155.6" height="3.6" fill="#53009d"/>
<rect x="376" y="1835.8" width="155.6" height="3.6" fill="#53009c"/>
<rect x="376" y="1838.8" width="155.6" height="3.6" fill="#53009c"/>
<rect x="376" y="1841.8" width="155.6" height="3.6" fill="#52009c"/>
<rect x="376" y="1844.8" width="155.6" height="3.6" fill="#52009b"/>
<rect x="376" y="1847.8" width="155.6" height="3.6" fill="#52009b"/>
<rect x="376" y="1850.8" width="155.6" height="3.6" fill="#52009b"/>
<rect x="376" y="1853.8" width="155.6" height="3.6" fill="#52009b"/>
<rect x="376" y="1856.8" width="155.6" height="3.6" fill="#52009a"/>
<rect x="376" y="1859.8" width="155.6" height="3.6" fill="#52009a"/>
<rect x="376" y="1862.8" width="155.6" height="3.6" fill="#52009a"/>
<rect x="376" y="1865.8" width="155.6" height="3.6" fill="#52009a"/>
<rect x="376" y="1868.8" width="155.6" height="3.6" fill="#520099"/>
<rect x="376" y="1871.8" width="155.6" height="3.6" fill="#520099"/>
<rect x="376" y="1874.8" width="155.6" height="3.6" fill="#520099"/>
<rect x="376" y="1877.8" width="155.6" height="3.6" fill="#510098"/>
<rect x="376" y="1880.8" width="155.6" height="3.6" fill="#510098"/>
<rect x="376" y="1883.8" width="155.6" height="3.6" fill="#510098"/>
<rect x="376" y="1886.8" width="155.6" height="3.6" fill="#510098"/>
<rect x="376" y="1889.8" width="155.6" height="3.6" fill="#510097"/>
<rect x="376" y="1892.8" width="155.6" height="3.6" fill="#510097"/>
<rect x="376" y="1895.8" width="155.6" height="3.6" fill="#510097"/>
<rect x="376" y="1898.8" width="155.6" height="3.6" fill="#510097"/>
<rect x="376" y="1901.8" width="155.6" height="3.6" fill="#510096"/>
<rect x="376" y="1904.8" width="155.6" height="3.6" fill="#510096"/>
<rect x="376" y="1907.8" width="155.6" height="3.6" fill="#510096"/>
<rect x="376" y="1910.8" width="155.6" height="3.6" fill="#510096"/>
<rect x="376" y="1913.8" width="155.6" height="3.6" fill="#500095"/>
<rect x="376" y="1916.8" width="155.6" height="3.6" fill="#500095"/>
<rect x="376" y="1919.8" width="155.6" height="3.6" fill="#500095"/>
<rect x="376" y="1922.8" width="155.6" height="3.6" fill="#500094"/>
<rect x="376" y="1925.8" width="155.6" height="3.6" fill="#500094"/>
<rect x="376" y="1928.8" width="155.6" height="3.6" fill="#500094"/>
<rect x="376" y="1931.8" width="155.6" height="3.6" fill="#500094"/>
<rect x="376" y="1934.8" width="155.6" height="3.6" fill="#500093"/>
<rect x="376" y="1937.8" width="155.6" height="3.6" fill="#500093"/>
<rect x="376" y="1940.8" width="155.6" height="3.6" fill="#500093"/>
<rect x="376" y="1943.8" width="155.6" height="3.6" fill="#500093"/>
<rect x="376" y="1946.8" width="155.6" height="3.6" fill="#500092"/>
<rect x="376" y="1949.8" width="155.6" height="3.6" fill="#4f0092"/>
<rect x="376" y="1952.8" width="155.6" height="3.6" fill="#4f0092"/>
<rect x="376" y="1955.8" width="155.6" height="3.6" fill="#4f0092"/>
<rect x="376" y="1958.8" width="155.6" height="3.6" fill="#4f0091"/>
<rect x="376" y="1961.8" width="155.6" height="3.6" fill="#4f0091"/>
<rect x="376" y="1964.8" width="155.6" height="3.6" fill="#4f0091"/>
<rect x="376" y="1967.8" width="155.6" height="3.6" fill="#4b0084"/>
<rect x="376" y="1970.8" width="155.6" height="3.6" fill="#4b0084"/>
<rect x="376" y="1973.8" width="155.6" height="3.6" fill="#4b0084"/>
<rect x="376" y="1976.8" width="155.6" height="3.6" fill="#4b0084"/>
<rect x="376" y="1979.8" width="155.6" height="3.6" fill="#4b0084"/>
<rect x="376" y="1982.8" width="155.6" height="3.6" fill="#4b0084"/>
<rect x="376" y="1985.8" width="155.6" height="3.6" fill="#4b0084"/>
<rect x="376" y="1988.8" width="155.6" height="3.6" fill="#4b0084"/>
<rect x="376" y="1991.8" width="155.6" height="3.6" fill="#4b0084"/>
<rect x="376" y="1994.8" width="155.6" height="3.6" fill="#4b0084"/>
<rect x="376" y="1997.8" width="155.6" height="2.8" fill="#4b0084"/>
<rect x="531" y="1301.8" width="155.6" height="92.7" fill="#48007b"/>
<rect x="531" y="1394" width="155.6" height="508.5" fill="#4b0084"/>
<rect x="531" y="1902" width="155.6" height="98.5" fill="#48007b"/>
<rect x="686" y="1301.8" width="155.6" height="104.7" fill="#450071"/>
<rect x="686" y="1406" width="155.6" height="172.5" fill="#400062"/>
<rect x="686" y="1578" width="155.6" height="145.5" fill="#3c0058"/>
<rect x="686" y="1723" width="155.6" height="173.5" fill="#400062"/>
<rect x="686" y="1896" width="155.6" height="104.5" fill="#450071"/>
<rect x="841" y="1301.8" width="155.6" height="53.7" fill="#420067"/>
<rect x="841" y="1355" width="155.6" height="593.5" fill="#3c0058"/>
<rect x="841" y="1948" width="155.6" height="52.5" fill="#420067"/>
<rect x="996" y="1301.8" width="772.7" height="698.2" fill="#3c0056"/>
<path class="k" stroke-width="6.2" d="M324.3,1418.2 L360.9,1418.2 M1757,1418.2 L1793.4,1418.2"/>
<path class="k" stroke-width="6.2" d="M324.3,1534.5 L360.9,1534.5 M1757,1534.5 L1793.4,1534.5"/>
<path class="k" stroke-width="6.2" d="M324.3,1650.9 L360.9,1650.9 M1757,1650.9 L1793.4,1650.9"/>
<path class="k" stroke-width="6.2" d="M324.3,1767.3 L360.9,1767.3 M1757,1767.3 L1793.4,1767.3"/>
<path class="k" stroke-width="6.2" d="M324.3,1883.6 L360.9,1883.6 M1757,1883.6 L1793.4,1883.6"/>
<path class="k" stroke-width="6.5" d="M356.5,1301.8 L356.5,1332.8 M356.5,2000.0 L356.5,1968.8"/>
<path class="k" stroke-width="6.5" d="M512.7,1301.8 L512.7,1332.8 M512.7,2000.0 L512.7,1968.8"/>
<path class="k" stroke-width="6.5" d="M668.8,1301.8 L668.8,1332.8 M668.8,2000.0 L668.8,1968.8"/>
<path class="k" stroke-width="6.5" d="M825.0,1301.8 L825.0,1332.8 M825.0,2000.0 L825.0,1968.8"/>
<path class="k" stroke-width="6.5" d="M981.2,1301.8 L981.2,1332.8 M981.2,2000.0 L981.2,1968.8"/>
<path class="k" stroke-width="6.5" d="M1137.3,1301.8 L1137.3,1332.8 M1137.3,2000.0 L1137.3,1968.8"/>
<path class="k" stroke-width="6.5" d="M1293.5,1301.8 L1293.5,1332.8 M1293.5,2000.0 L1293.5,1968.8"/>
<path class="k" stroke-width="6.5" d="M1449.7,1301.8 L1449.7,1332.8 M1449.7,2000.0 L1449.7,1968.8"/>
<path class="k" stroke-width="6.5" d="M1605.9,1301.8 L1605.9,1332.8 M1605.9,2000.0 L1605.9,1968.8"/>
<path class="k" stroke-width="6.5" d="M1762.0,1301.8 L1762.0,1332.8 M1762.0,2000.0 L1762.0,1968.8"/>
<rect x="324.3" y="1301.8" width="1469.1000000000001" height="698.2" class="k" stroke-width="6.8"/>
<path d="M325.1,1414.3 L1783,1414.3 M325.1,1883.8 L1783,1883.8" stroke="#00ff00" stroke-width="5" stroke-dasharray="25.6 23.7" fill="none"/>
<path d="M325.1,1636.6 L1783,1636.6 M325.1,1673.5 L1783,1673.5" stroke="#008b8b" stroke-width="5" stroke-dasharray="25.6 23.7" fill="none"/>
<text class="t70" transform="translate(284.5,1325.3) scale(1.022,0.915)" text-anchor="end" >1500</text>
<text class="t70" transform="translate(284.5,1441.6666666666665) scale(1.022,0.915)" text-anchor="end" >1000</text>
<text class="t70" transform="translate(284.5,1558.0333333333333) scale(1.022,0.915)" text-anchor="end" >500</text>
<text class="t70" transform="translate(284.5,1674.4) scale(1.022,0.915)" text-anchor="end" >0</text>
<text class="t70" transform="translate(284.5,1790.7666666666667) scale(1.022,0.915)" text-anchor="end" >−500</text>
<text class="t70" transform="translate(284.5,1907.1333333333332) scale(1.022,0.915)" text-anchor="end" >−1000</text>
<text class="t70" transform="translate(284.5,2023.5) scale(1.022,0.915)" text-anchor="end" >−1500</text>
<text class="t70" transform="translate(418.5,2074.5) scale(1.022,0.915)" text-anchor="middle" >5</text>
<text class="t70" transform="translate(743,2074.5) scale(1.022,0.915)" text-anchor="middle" >6</text>
<text class="t70" transform="translate(1039,2074.5) scale(1.022,0.915)" text-anchor="middle" >7</text>
<text class="t70" transform="translate(1338,2074.5) scale(1.022,0.915)" text-anchor="middle" >8</text>
<text class="t70" transform="translate(1633.5,2074.5) scale(1.022,0.915)" text-anchor="middle" >9</text>
<text class="t84" transform="translate(1057.4,2154.4) scale(1,0.862)" text-anchor="middle" >Time (in ns)</text>
<text class="t84" transform="translate(85.5,1652.8) scale(1,0.893) rotate(-90)" style="font-size:82px" text-anchor="middle">Distance along y−axis (in nm)</text>
<text class="t70" transform="translate(1071.1,1402) scale(1,1)" text-anchor="middle" style="fill:#00ff00;stroke:#00ff00;font-size:61.5px;stroke-width:0.4px">cell’s membrane</text>
<text class="t70" transform="translate(1073,1734.4) scale(1,1)" text-anchor="middle" style="fill:#008b8b;stroke:#008b8b;font-size:61px;stroke-width:0.4px">nanoparticle limit</text>
<rect x="1830" y="1301.8" width="72.6" height="698.2" fill="url(#palv)" stroke="#000" stroke-width="6.3"/>
<text class="t70" transform="translate(1953,1325.3) scale(1.022,0.915)" text-anchor="start" >3000</text>
<path class="k" stroke-width="6.2" d="M1832,1418.2 L1857,1418.2 M1876.4,1418.2 L1901,1418.2"/>
<text class="t70" transform="translate(1953,1441.6666666666665) scale(1.022,0.915)" text-anchor="start" >2500</text>
<path class="k" stroke-width="6.2" d="M1832,1534.5 L1857,1534.5 M1876.4,1534.5 L1901,1534.5"/>
<text class="t70" transform="translate(1953,1558.0333333333333) scale(1.022,0.915)" text-anchor="start" >2000</text>
<path class="k" stroke-width="6.2" d="M1832,1650.9 L1857,1650.9 M1876.4,1650.9 L1901,1650.9"/>
<text class="t70" transform="translate(1953,1674.4) scale(1.022,0.915)" text-anchor="start" >1500</text>
<path class="k" stroke-width="6.2" d="M1832,1767.3 L1857,1767.3 M1876.4,1767.3 L1901,1767.3"/>
<text class="t70" transform="translate(1953,1790.7666666666667) scale(1.022,0.915)" text-anchor="start" >1000</text>
<path class="k" stroke-width="6.2" d="M1832,1883.6 L1857,1883.6 M1876.4,1883.6 L1901,1883.6"/>
<text class="t70" transform="translate(1953,1907.1333333333332) scale(1.022,0.915)" text-anchor="start" >500</text>
<text class="t70" transform="translate(1953,2023.5) scale(1.022,0.915)" text-anchor="start" >0</text>
<text class="t70" transform="translate(1901.3,1253) scale(1,1)" text-anchor="middle" style="font-size:70px">(in Pa)</text>
<text x="1060" y="2242.5" text-anchor="middle" style="font-size:52.5px;stroke-width:0.3px">(b)</text>
</g>
</svg></body></html>
